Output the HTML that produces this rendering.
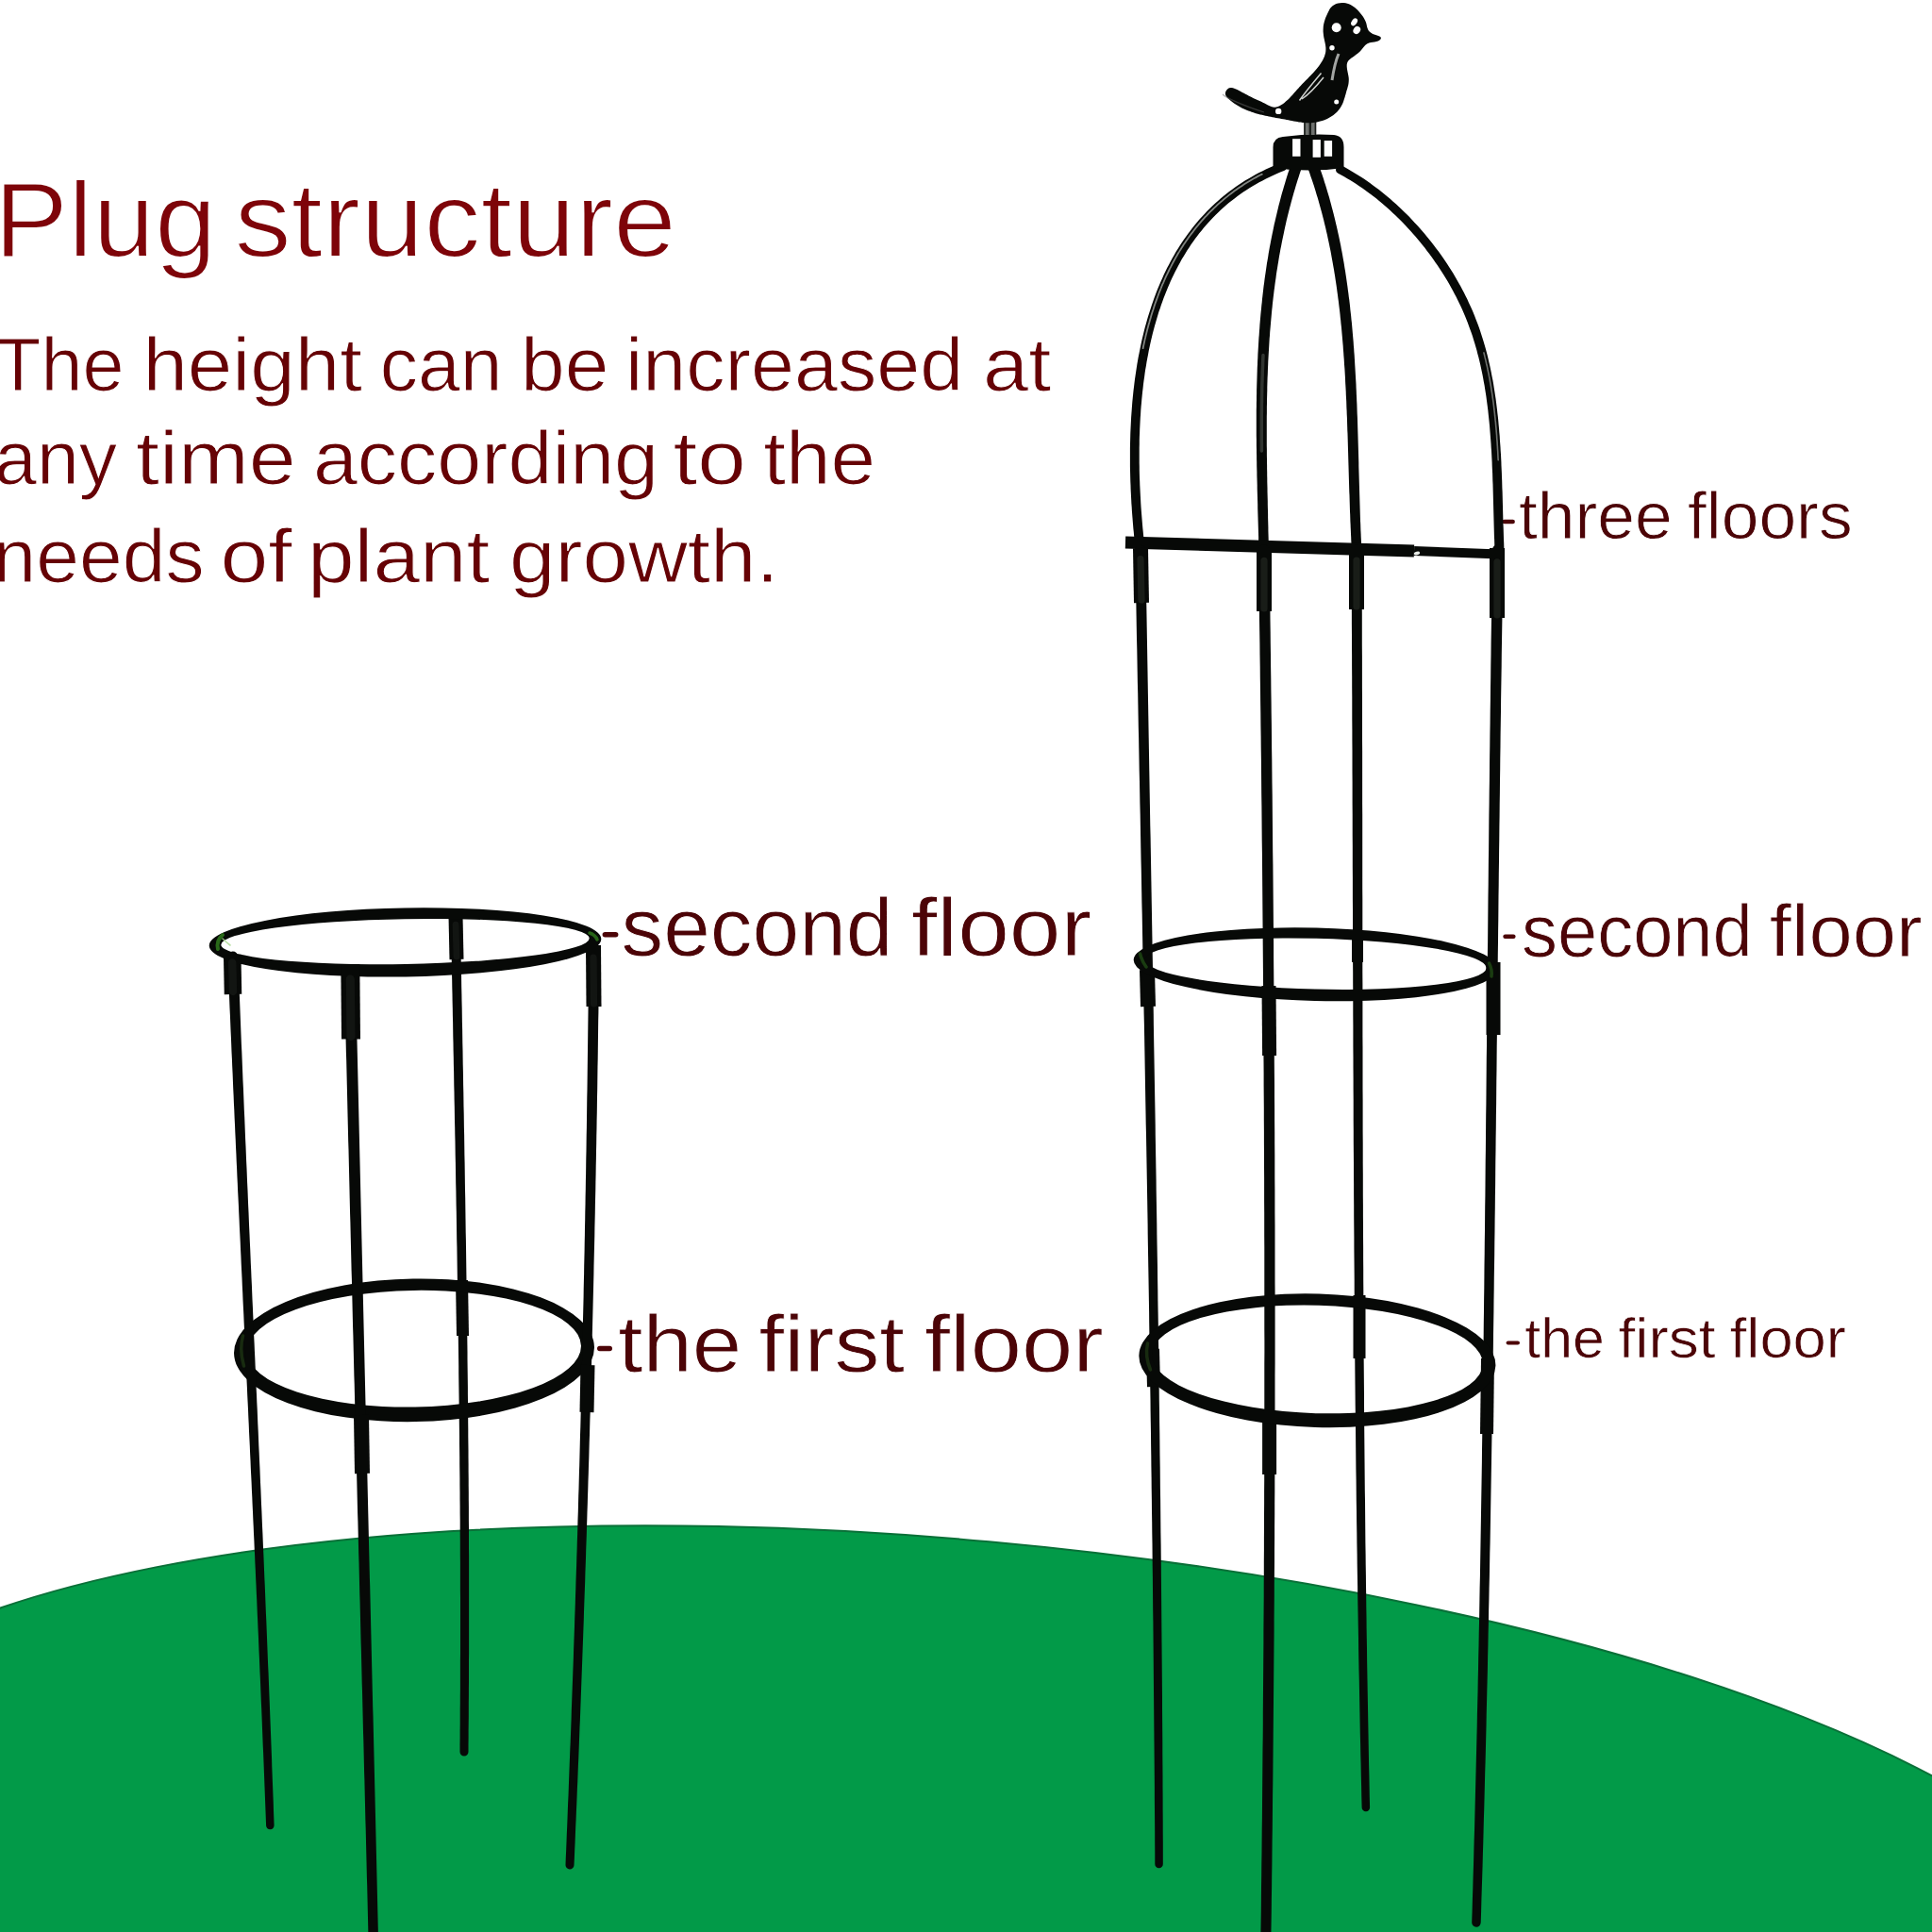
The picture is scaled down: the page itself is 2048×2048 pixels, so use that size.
<!DOCTYPE html>
<html><head><meta charset="utf-8">
<style>
html,body{margin:0;padding:0;background:#fff;width:2048px;height:2048px;overflow:hidden}
svg{display:block}
text{font-family:"Liberation Sans",sans-serif}
</style></head>
<body>
<svg width="2048" height="2048" viewBox="0 0 2048 2048">
<rect width="2048" height="2048" fill="#fff"/>
<ellipse cx="1015.27" cy="1998.37" rx="1240.58" ry="365.64" transform="rotate(5.2 1015.27 1998.37)" fill="#029a48" stroke="#0a7038" stroke-width="2"/>
<text x="-6.3" y="272.3" font-size="113" textLength="235.7" lengthAdjust="spacingAndGlyphs" fill="#7e0409" stroke="#fff" stroke-width="2.0">Plug</text>
<text x="248.4" y="272.3" font-size="113" textLength="468.6" lengthAdjust="spacingAndGlyphs" fill="#7e0409" stroke="#fff" stroke-width="2.0">structure</text>
<text x="-5.0" y="414" font-size="79.5" textLength="136.5" lengthAdjust="spacingAndGlyphs" fill="#660205" stroke="#fff" stroke-width="1.0">The</text>
<text x="151.4" y="414" font-size="79.5" textLength="232.6" lengthAdjust="spacingAndGlyphs" fill="#660205" stroke="#fff" stroke-width="1.0">height</text>
<text x="402.7" y="414" font-size="79.5" textLength="129.7" lengthAdjust="spacingAndGlyphs" fill="#660205" stroke="#fff" stroke-width="1.0">can</text>
<text x="552.0" y="414" font-size="79.5" textLength="93.4" lengthAdjust="spacingAndGlyphs" fill="#660205" stroke="#fff" stroke-width="1.0">be</text>
<text x="662.9" y="414" font-size="79.5" textLength="358.2" lengthAdjust="spacingAndGlyphs" fill="#660205" stroke="#fff" stroke-width="1.0">increased</text>
<text x="1042.0" y="414" font-size="79.5" textLength="72.3" lengthAdjust="spacingAndGlyphs" fill="#660205" stroke="#fff" stroke-width="1.0">at</text>
<text x="-6.0" y="513.4" font-size="79.5" textLength="130.2" lengthAdjust="spacingAndGlyphs" fill="#660205" stroke="#fff" stroke-width="1.0">any</text>
<text x="144.0" y="513.4" font-size="79.5" textLength="169.7" lengthAdjust="spacingAndGlyphs" fill="#660205" stroke="#fff" stroke-width="1.0">time</text>
<text x="331.9" y="513.4" font-size="79.5" textLength="366.2" lengthAdjust="spacingAndGlyphs" fill="#660205" stroke="#fff" stroke-width="1.0">according</text>
<text x="713.5" y="513.4" font-size="79.5" textLength="77.3" lengthAdjust="spacingAndGlyphs" fill="#660205" stroke="#fff" stroke-width="1.0">to</text>
<text x="809.2" y="513.4" font-size="79.5" textLength="119.0" lengthAdjust="spacingAndGlyphs" fill="#660205" stroke="#fff" stroke-width="1.0">the</text>
<text x="-7.5" y="616.9" font-size="79.5" textLength="224.1" lengthAdjust="spacingAndGlyphs" fill="#660205" stroke="#fff" stroke-width="1.0">needs</text>
<text x="233.5" y="616.9" font-size="79.5" textLength="76.3" lengthAdjust="spacingAndGlyphs" fill="#660205" stroke="#fff" stroke-width="1.0">of</text>
<text x="326.0" y="616.9" font-size="79.5" textLength="193.4" lengthAdjust="spacingAndGlyphs" fill="#660205" stroke="#fff" stroke-width="1.0">plant</text>
<text x="540.0" y="616.9" font-size="79.5" textLength="285.7" lengthAdjust="spacingAndGlyphs" fill="#660205" stroke="#fff" stroke-width="1.0">growth.</text>
<text x="658.5" y="1013" font-size="87" textLength="288.0" lengthAdjust="spacingAndGlyphs" fill="#4c0407" stroke="#fff" stroke-width="0.8">second</text>
<text x="966.0" y="1013" font-size="87" textLength="191.2" lengthAdjust="spacingAndGlyphs" fill="#4c0407" stroke="#fff" stroke-width="0.8">floor</text>
<text x="655.2" y="1454" font-size="86" textLength="131.1" lengthAdjust="spacingAndGlyphs" fill="#4c0407" stroke="#fff" stroke-width="0.8">the</text>
<text x="804.5" y="1454" font-size="86" textLength="154.5" lengthAdjust="spacingAndGlyphs" fill="#4c0407" stroke="#fff" stroke-width="0.8">first</text>
<text x="979.9" y="1454" font-size="86" textLength="189.8" lengthAdjust="spacingAndGlyphs" fill="#4c0407" stroke="#fff" stroke-width="0.8">floor</text>
<text x="1610.0" y="571.4" font-size="71" textLength="162.8" lengthAdjust="spacingAndGlyphs" fill="#4c0407" stroke="#fff" stroke-width="0.8">three</text>
<text x="1789.0" y="571.4" font-size="71" textLength="174.6" lengthAdjust="spacingAndGlyphs" fill="#4c0407" stroke="#fff" stroke-width="0.8">floors</text>
<text x="1613.0" y="1013.9" font-size="77" textLength="244.8" lengthAdjust="spacingAndGlyphs" fill="#4c0407" stroke="#fff" stroke-width="0.8">second</text>
<text x="1875.8" y="1013.9" font-size="77" textLength="161.8" lengthAdjust="spacingAndGlyphs" fill="#4c0407" stroke="#fff" stroke-width="0.8">floor</text>
<text x="1616.3" y="1439" font-size="59" textLength="84.5" lengthAdjust="spacingAndGlyphs" fill="#4c0407" stroke="#fff" stroke-width="0.6">the</text>
<text x="1715.6" y="1439" font-size="59" textLength="103.0" lengthAdjust="spacingAndGlyphs" fill="#4c0407" stroke="#fff" stroke-width="0.6">first</text>
<text x="1833.7" y="1439" font-size="59" textLength="123.3" lengthAdjust="spacingAndGlyphs" fill="#4c0407" stroke="#fff" stroke-width="0.6">floor</text>
<rect x="638.6" y="988.0" width="16.8" height="5.5" rx="2.8" fill="#4c0407"/>
<rect x="633" y="1426.7" width="16.0" height="5.5" rx="2.8" fill="#4c0407"/>
<rect x="1592.4" y="550.7" width="13.5" height="4.6" rx="2.3" fill="#4c0407"/>
<rect x="1593.3" y="990.5" width="13.3" height="4.6" rx="2.3" fill="#4c0407"/>
<rect x="1596.6" y="1421.4" width="14.4" height="4.2" rx="2.1" fill="#4c0407"/>
<g class="struct">
<path d="M477.9,972.1 L478.0,979.5 L478.2,987.0 L478.3,994.4 L478.4,1001.8 L478.6,1009.3 L478.7,1016.7 L478.9,1024.2 L479.0,1031.6 L479.2,1039.0 L479.3,1046.5 L479.5,1053.9 L479.6,1061.3 L479.8,1068.8 L479.9,1076.2 L480.1,1083.6 L480.2,1091.1 L480.3,1098.5 L480.5,1105.9 L480.6,1113.4 L480.8,1120.8 L480.9,1128.3 L481.1,1135.7 L481.2,1143.1 L481.3,1150.6 L481.5,1158.0 L481.6,1165.4 L481.8,1172.9 L481.9,1180.3 L482.0,1187.7 L482.2,1195.2 L482.3,1202.6 L482.5,1210.0 L482.6,1217.5 L482.7,1224.9 L482.9,1232.4 L483.0,1239.8 L483.1,1247.2 L483.2,1254.7 L483.4,1262.1 L483.5,1269.5 L483.6,1277.0 L483.8,1284.4 L483.9,1291.8 L484.0,1299.3 L484.1,1306.7 L484.2,1314.2 L484.4,1321.6 L484.5,1329.0 L484.6,1336.5 L484.7,1343.9 L484.8,1351.3 L484.9,1358.8 L485.0,1366.2 L485.2,1373.6 L485.3,1381.1 L485.4,1388.5 L485.5,1395.9 L485.6,1403.4 L485.7,1410.8 L485.8,1418.3 L485.9,1425.7 L486.0,1433.1 L486.1,1440.6 L486.2,1448.0 L486.2,1455.4 L486.3,1462.9 L486.4,1470.3 L486.5,1477.7 L486.6,1485.2 L486.7,1492.6 L486.7,1500.0 L486.8,1507.5 L486.9,1514.9 L487.0,1522.4 L487.0,1529.8 L487.1,1537.2 L487.2,1544.7 L487.2,1552.1 L487.3,1559.5 L487.4,1567.0 L487.4,1574.4 L487.5,1581.8 L487.5,1589.3 L487.6,1596.7 L487.6,1604.1 L487.7,1611.6 L487.7,1619.0 L487.7,1626.5 L487.8,1633.9 L487.8,1641.3 L487.8,1648.8 L487.9,1656.2 L487.9,1663.6 L487.9,1671.1 L487.9,1678.5 L487.9,1685.9 L488.0,1693.4 L488.0,1700.8 L488.0,1708.2 L488.0,1715.7 L488.0,1723.1 L488.0,1730.6 L488.0,1738.0 L488.0,1745.4 L488.0,1752.9 L487.9,1760.3 L487.9,1767.7 L487.9,1775.2 L487.9,1782.6 L487.9,1790.0 L487.8,1797.5 L487.8,1804.9 L487.7,1812.3 L487.7,1819.8 L487.7,1827.2 L487.6,1834.7 L487.6,1842.1 L487.5,1849.5 L487.5,1857.0 A4.50,4.50 0 0 0 496.5,1857.0 L496.5,1857.0 L496.5,1849.6 L496.6,1842.2 L496.6,1834.7 L496.7,1827.3 L496.8,1819.8 L496.8,1812.4 L496.8,1805.0 L496.9,1797.5 L496.9,1790.1 L497.0,1782.6 L497.0,1775.2 L497.0,1767.8 L497.0,1760.3 L497.1,1752.9 L497.1,1745.4 L497.1,1738.0 L497.1,1730.6 L497.1,1723.1 L497.1,1715.7 L497.1,1708.2 L497.1,1700.8 L497.1,1693.4 L497.1,1685.9 L497.1,1678.5 L497.1,1671.0 L497.1,1663.6 L497.1,1656.2 L497.1,1648.7 L497.0,1641.3 L497.0,1633.8 L497.0,1626.4 L497.0,1619.0 L496.9,1611.5 L496.9,1604.1 L496.9,1596.7 L496.8,1589.2 L496.8,1581.8 L496.7,1574.3 L496.7,1566.9 L496.6,1559.5 L496.6,1552.0 L496.5,1544.6 L496.5,1537.1 L496.4,1529.7 L496.3,1522.3 L496.3,1514.8 L496.2,1507.4 L496.2,1500.0 L496.1,1492.5 L496.0,1485.1 L495.9,1477.6 L495.9,1470.2 L495.8,1462.8 L495.7,1455.3 L495.6,1447.9 L495.5,1440.4 L495.5,1433.0 L495.4,1425.6 L495.3,1418.1 L495.2,1410.7 L495.1,1403.3 L495.0,1395.8 L494.9,1388.4 L494.8,1380.9 L494.7,1373.5 L494.6,1366.1 L494.5,1358.6 L494.4,1351.2 L494.3,1343.8 L494.2,1336.3 L494.1,1328.9 L494.0,1321.4 L493.9,1314.0 L493.7,1306.6 L493.6,1299.1 L493.5,1291.7 L493.4,1284.3 L493.3,1276.8 L493.2,1269.4 L493.0,1261.9 L492.9,1254.5 L492.8,1247.1 L492.7,1239.6 L492.6,1232.2 L492.4,1224.8 L492.3,1217.3 L492.2,1209.9 L492.1,1202.4 L491.9,1195.0 L491.8,1187.6 L491.7,1180.1 L491.5,1172.7 L491.4,1165.3 L491.3,1157.8 L491.1,1150.4 L491.0,1142.9 L490.9,1135.5 L490.7,1128.1 L490.6,1120.6 L490.5,1113.2 L490.3,1105.8 L490.2,1098.3 L490.1,1090.9 L489.9,1083.5 L489.8,1076.0 L489.7,1068.6 L489.5,1061.1 L489.4,1053.7 L489.2,1046.3 L489.1,1038.8 L489.0,1031.4 L488.8,1024.0 L488.7,1016.5 L488.6,1009.1 L488.4,1001.7 L488.3,994.2 L488.1,986.8 L488.0,979.3 L487.9,971.9 A5.00,5.00 0 0 0 477.9,972.1 Z" fill="#070907" />
<path d="M483.0,971.0 L484.0,1017.0" stroke="#070907" stroke-width="15" fill="none" stroke-linecap="butt" stroke-linejoin="round" /><path d="M483.0,980.2 L484.0,1014.0" stroke="#1a1e1a" stroke-width="6.75" fill="none" stroke-linecap="round" stroke-linejoin="round" opacity="0.6"/>
<path d="M489.5,1357.0 L490.5,1416.0" stroke="#070907" stroke-width="13" fill="none" stroke-linecap="butt" stroke-linejoin="round" />
<path d="M221.70,998.90 a207.80,36.50 0 1 0 415.60,0 a207.80,36.50 0 1 0 -415.60,0 Z M234.30,998.10 a195.20,23.90 0 1 0 390.40,0 a195.20,23.90 0 1 0 -390.40,0 Z" fill="#070907" fill-rule="evenodd" transform="rotate(-1.0 429.5 998.5)"/>
<path d="M248.00,1431.30 a191.00,75.80 0 1 0 382.00,0 a191.00,75.80 0 1 0 -382.00,0 Z M262.00,1429.70 a177.00,61.80 0 1 0 354.00,0 a177.00,61.80 0 1 0 -354.00,0 Z" fill="#070907" fill-rule="evenodd" transform="rotate(-1.0 439 1430.5)"/>
<path d="M241.3,1014.2 L241.6,1022.0 L241.9,1029.7 L242.2,1037.5 L242.6,1045.2 L242.9,1052.9 L243.2,1060.7 L243.5,1068.4 L243.9,1076.2 L244.2,1083.9 L244.5,1091.6 L244.9,1099.4 L245.2,1107.1 L245.5,1114.9 L245.9,1122.6 L246.2,1130.3 L246.6,1138.1 L246.9,1145.8 L247.2,1153.6 L247.6,1161.3 L247.9,1169.0 L248.3,1176.8 L248.6,1184.5 L249.0,1192.3 L249.3,1200.0 L249.7,1207.7 L250.0,1215.5 L250.4,1223.2 L250.7,1231.0 L251.1,1238.7 L251.4,1246.4 L251.8,1254.2 L252.1,1261.9 L252.5,1269.6 L252.9,1277.4 L253.2,1285.1 L253.6,1292.9 L253.9,1300.6 L254.3,1308.3 L254.7,1316.1 L255.0,1323.8 L255.4,1331.6 L255.7,1339.3 L256.1,1347.0 L256.5,1354.8 L256.8,1362.5 L257.2,1370.2 L257.5,1378.0 L257.9,1385.7 L258.3,1393.5 L258.6,1401.2 L259.0,1408.9 L259.3,1416.7 L259.7,1424.4 L260.1,1432.2 L260.4,1439.9 L260.8,1447.6 L261.2,1455.4 L261.5,1463.1 L261.9,1470.8 L262.2,1478.6 L262.6,1486.3 L263.0,1494.1 L263.3,1501.8 L263.7,1509.5 L264.0,1517.3 L264.4,1525.0 L264.8,1532.7 L265.1,1540.5 L265.5,1548.2 L265.8,1556.0 L266.2,1563.7 L266.6,1571.4 L266.9,1579.2 L267.3,1586.9 L267.6,1594.6 L268.0,1602.4 L268.3,1610.1 L268.7,1617.9 L269.0,1625.6 L269.4,1633.3 L269.7,1641.1 L270.1,1648.8 L270.4,1656.6 L270.8,1664.3 L271.1,1672.0 L271.5,1679.8 L271.8,1687.5 L272.2,1695.2 L272.5,1703.0 L272.8,1710.7 L273.2,1718.5 L273.5,1726.2 L273.9,1733.9 L274.2,1741.7 L274.5,1749.4 L274.9,1757.2 L275.2,1764.9 L275.5,1772.6 L275.9,1780.4 L276.2,1788.1 L276.5,1795.8 L276.8,1803.6 L277.2,1811.3 L277.5,1819.1 L277.8,1826.8 L278.1,1834.5 L278.4,1842.3 L278.7,1850.0 L279.1,1857.8 L279.4,1865.5 L279.7,1873.2 L280.0,1881.0 L280.3,1888.7 L280.6,1896.5 L280.9,1904.2 L281.2,1911.9 L281.5,1919.7 L281.8,1927.4 L282.1,1935.2 A4.25,4.25 0 0 0 290.6,1934.9 L290.6,1934.9 L290.3,1927.1 L290.0,1919.4 L289.8,1911.6 L289.5,1903.9 L289.2,1896.1 L288.9,1888.4 L288.6,1880.6 L288.3,1872.9 L288.1,1865.2 L287.8,1857.4 L287.5,1849.7 L287.2,1841.9 L286.9,1834.2 L286.6,1826.5 L286.3,1818.7 L286.0,1811.0 L285.7,1803.2 L285.4,1795.5 L285.1,1787.7 L284.8,1780.0 L284.5,1772.3 L284.1,1764.5 L283.8,1756.8 L283.5,1749.0 L283.2,1741.3 L282.9,1733.6 L282.6,1725.8 L282.3,1718.1 L281.9,1710.3 L281.6,1702.6 L281.3,1694.9 L281.0,1687.1 L280.7,1679.4 L280.3,1671.6 L280.0,1663.9 L279.7,1656.2 L279.4,1648.4 L279.0,1640.7 L278.7,1632.9 L278.4,1625.2 L278.0,1617.4 L277.7,1609.7 L277.4,1602.0 L277.0,1594.2 L276.7,1586.5 L276.4,1578.8 L276.0,1571.0 L275.7,1563.3 L275.4,1555.5 L275.0,1547.8 L274.7,1540.1 L274.3,1532.3 L274.0,1524.6 L273.7,1516.8 L273.3,1509.1 L273.0,1501.4 L272.7,1493.6 L272.3,1485.9 L272.0,1478.1 L271.6,1470.4 L271.3,1462.7 L271.0,1454.9 L270.6,1447.2 L270.3,1439.4 L269.9,1431.7 L269.6,1424.0 L269.2,1416.2 L268.9,1408.5 L268.6,1400.7 L268.2,1393.0 L267.9,1385.3 L267.5,1377.5 L267.2,1369.8 L266.9,1362.1 L266.5,1354.3 L266.2,1346.6 L265.8,1338.8 L265.5,1331.1 L265.2,1323.4 L264.8,1315.6 L264.5,1307.9 L264.1,1300.1 L263.8,1292.4 L263.5,1284.7 L263.1,1276.9 L262.8,1269.2 L262.5,1261.4 L262.1,1253.7 L261.8,1246.0 L261.5,1238.2 L261.1,1230.5 L260.8,1222.8 L260.5,1215.0 L260.1,1207.3 L259.8,1199.5 L259.5,1191.8 L259.2,1184.1 L258.8,1176.3 L258.5,1168.6 L258.2,1160.8 L257.9,1153.1 L257.5,1145.4 L257.2,1137.6 L256.9,1129.9 L256.6,1122.1 L256.3,1114.4 L255.9,1106.7 L255.6,1098.9 L255.3,1091.2 L255.0,1083.4 L254.7,1075.7 L254.4,1068.0 L254.1,1060.2 L253.8,1052.5 L253.5,1044.7 L253.2,1037.0 L252.9,1029.3 L252.6,1021.5 L252.3,1013.8 A5.50,5.50 0 0 0 241.3,1014.2 Z" fill="#070907" />
<path d="M246.2,1012.0 L247.0,1054.0" stroke="#070907" stroke-width="18.5" fill="none" stroke-linecap="butt" stroke-linejoin="round" /><path d="M246.2,1020.4 L247.0,1051.0" stroke="#1a1e1a" stroke-width="8.325000000000001" fill="none" stroke-linecap="round" stroke-linejoin="round" opacity="0.6"/>
<path d="M364.9,1030.1 L365.1,1038.7 L365.3,1047.3 L365.5,1055.9 L365.7,1064.4 L365.9,1073.0 L366.1,1081.6 L366.3,1090.1 L366.5,1098.7 L366.7,1107.3 L366.9,1115.9 L367.2,1124.4 L367.4,1133.0 L367.6,1141.6 L367.8,1150.2 L368.0,1158.7 L368.2,1167.3 L368.4,1175.9 L368.6,1184.4 L368.8,1193.0 L369.0,1201.6 L369.2,1210.2 L369.5,1218.7 L369.7,1227.3 L369.9,1235.9 L370.1,1244.4 L370.3,1253.0 L370.5,1261.6 L370.7,1270.2 L370.9,1278.7 L371.1,1287.3 L371.4,1295.9 L371.6,1304.4 L371.8,1313.0 L372.0,1321.6 L372.2,1330.2 L372.4,1338.7 L372.6,1347.3 L372.9,1355.9 L373.1,1364.4 L373.3,1373.0 L373.5,1381.6 L373.7,1390.2 L373.9,1398.7 L374.1,1407.3 L374.4,1415.9 L374.6,1424.4 L374.8,1433.0 L375.0,1441.6 L375.2,1450.2 L375.4,1458.7 L375.7,1467.3 L375.9,1475.9 L376.1,1484.4 L376.3,1493.0 L376.5,1501.6 L376.7,1510.1 L377.0,1518.7 L377.2,1527.3 L377.4,1535.9 L377.6,1544.4 L377.8,1553.0 L378.1,1561.6 L378.3,1570.1 L378.5,1578.7 L378.7,1587.3 L378.9,1595.9 L379.1,1604.4 L379.4,1613.0 L379.6,1621.6 L379.8,1630.1 L380.0,1638.7 L380.2,1647.3 L380.5,1655.9 L380.7,1664.4 L380.9,1673.0 L381.1,1681.6 L381.3,1690.1 L381.6,1698.7 L381.8,1707.3 L382.0,1715.9 L382.2,1724.4 L382.4,1733.0 L382.6,1741.6 L382.9,1750.1 L383.1,1758.7 L383.3,1767.3 L383.5,1775.9 L383.7,1784.4 L384.0,1793.0 L384.2,1801.6 L384.4,1810.1 L384.6,1818.7 L384.8,1827.3 L385.0,1835.9 L385.3,1844.4 L385.5,1853.0 L385.7,1861.6 L385.9,1870.1 L386.1,1878.7 L386.4,1887.3 L386.6,1895.9 L386.8,1904.4 L387.0,1913.0 L387.2,1921.6 L387.4,1930.1 L387.7,1938.7 L387.9,1947.3 L388.1,1955.9 L388.3,1964.4 L388.5,1973.0 L388.7,1981.6 L388.9,1990.1 L389.2,1998.7 L389.4,2007.3 L389.6,2015.8 L389.8,2024.4 L390.0,2033.0 L390.2,2041.6 L390.4,2050.1 A5.25,5.25 0 0 0 400.9,2049.9 L400.9,2049.9 L400.7,2041.3 L400.5,2032.7 L400.3,2024.2 L400.1,2015.6 L399.9,2007.0 L399.7,1998.5 L399.5,1989.9 L399.3,1981.3 L399.1,1972.7 L398.9,1964.2 L398.7,1955.6 L398.5,1947.0 L398.3,1938.4 L398.1,1929.9 L397.9,1921.3 L397.7,1912.7 L397.5,1904.2 L397.3,1895.6 L397.1,1887.0 L396.9,1878.4 L396.7,1869.9 L396.5,1861.3 L396.3,1852.7 L396.1,1844.2 L395.9,1835.6 L395.7,1827.0 L395.5,1818.4 L395.2,1809.9 L395.0,1801.3 L394.8,1792.7 L394.6,1784.2 L394.4,1775.6 L394.2,1767.0 L394.0,1758.4 L393.8,1749.9 L393.6,1741.3 L393.4,1732.7 L393.2,1724.2 L393.0,1715.6 L392.8,1707.0 L392.6,1698.4 L392.4,1689.9 L392.2,1681.3 L391.9,1672.7 L391.7,1664.2 L391.5,1655.6 L391.3,1647.0 L391.1,1638.4 L390.9,1629.9 L390.7,1621.3 L390.5,1612.7 L390.3,1604.2 L390.1,1595.6 L389.9,1587.0 L389.7,1578.4 L389.5,1569.9 L389.3,1561.3 L389.1,1552.7 L388.9,1544.2 L388.7,1535.6 L388.5,1527.0 L388.2,1518.4 L388.0,1509.9 L387.8,1501.3 L387.6,1492.7 L387.4,1484.2 L387.2,1475.6 L387.0,1467.0 L386.8,1458.4 L386.6,1449.9 L386.4,1441.3 L386.2,1432.7 L386.0,1424.2 L385.8,1415.6 L385.6,1407.0 L385.4,1398.4 L385.2,1389.9 L385.0,1381.3 L384.8,1372.7 L384.6,1364.2 L384.4,1355.6 L384.2,1347.0 L384.0,1338.4 L383.8,1329.9 L383.6,1321.3 L383.4,1312.7 L383.2,1304.2 L383.0,1295.6 L382.8,1287.0 L382.6,1278.4 L382.4,1269.9 L382.2,1261.3 L382.0,1252.7 L381.8,1244.2 L381.6,1235.6 L381.4,1227.0 L381.2,1218.4 L381.0,1209.9 L380.8,1201.3 L380.6,1192.7 L380.4,1184.2 L380.2,1175.6 L380.0,1167.0 L379.8,1158.4 L379.6,1149.9 L379.4,1141.3 L379.2,1132.7 L379.0,1124.2 L378.8,1115.6 L378.6,1107.0 L378.4,1098.4 L378.2,1089.9 L378.0,1081.3 L377.9,1072.7 L377.7,1064.2 L377.5,1055.6 L377.3,1047.0 L377.1,1038.4 L376.9,1029.9 A6.00,6.00 0 0 0 364.9,1030.1 Z" fill="#070907" />
<path d="M371.3,1022.0 L372.0,1101.5" stroke="#070907" stroke-width="20" fill="none" stroke-linecap="butt" stroke-linejoin="round" /><path d="M371.3,1037.9 L372.0,1098.5" stroke="#1a1e1a" stroke-width="9.0" fill="none" stroke-linecap="round" stroke-linejoin="round" opacity="0.6"/>
<path d="M383.0,1500.0 L384.0,1562.0" stroke="#070907" stroke-width="16" fill="none" stroke-linecap="butt" stroke-linejoin="round" />
<path d="M624.1,1007.9 L624.1,1016.1 L624.0,1024.2 L623.9,1032.4 L623.8,1040.5 L623.7,1048.7 L623.7,1056.8 L623.6,1064.9 L623.5,1073.1 L623.4,1081.2 L623.3,1089.4 L623.2,1097.5 L623.1,1105.7 L623.0,1113.8 L622.9,1121.9 L622.8,1130.1 L622.7,1138.2 L622.6,1146.4 L622.5,1154.5 L622.3,1162.7 L622.2,1170.8 L622.1,1179.0 L622.0,1187.1 L621.9,1195.2 L621.7,1203.4 L621.6,1211.5 L621.5,1219.7 L621.3,1227.8 L621.2,1236.0 L621.1,1244.1 L620.9,1252.2 L620.8,1260.4 L620.6,1268.5 L620.5,1276.7 L620.3,1284.8 L620.2,1293.0 L620.0,1301.1 L619.9,1309.2 L619.7,1317.4 L619.6,1325.5 L619.4,1333.7 L619.2,1341.8 L619.1,1350.0 L618.9,1358.1 L618.7,1366.2 L618.6,1374.4 L618.4,1382.5 L618.2,1390.7 L618.0,1398.8 L617.8,1407.0 L617.7,1415.1 L617.5,1423.2 L617.3,1431.4 L617.1,1439.5 L616.9,1447.7 L616.7,1455.8 L616.5,1464.0 L616.3,1472.1 L616.1,1480.2 L615.9,1488.4 L615.7,1496.5 L615.5,1504.7 L615.3,1512.8 L615.0,1521.0 L614.8,1529.1 L614.6,1537.2 L614.4,1545.4 L614.2,1553.5 L613.9,1561.7 L613.7,1569.8 L613.5,1577.9 L613.2,1586.1 L613.0,1594.2 L612.8,1602.4 L612.5,1610.5 L612.3,1618.7 L612.1,1626.8 L611.8,1634.9 L611.6,1643.1 L611.3,1651.2 L611.1,1659.4 L610.8,1667.5 L610.5,1675.6 L610.3,1683.8 L610.0,1691.9 L609.8,1700.1 L609.5,1708.2 L609.2,1716.4 L609.0,1724.5 L608.7,1732.6 L608.4,1740.8 L608.1,1748.9 L607.9,1757.1 L607.6,1765.2 L607.3,1773.3 L607.0,1781.5 L606.7,1789.6 L606.4,1797.8 L606.1,1805.9 L605.8,1814.0 L605.6,1822.2 L605.3,1830.3 L605.0,1838.5 L604.7,1846.6 L604.3,1854.7 L604.0,1862.9 L603.7,1871.0 L603.4,1879.1 L603.1,1887.3 L602.8,1895.4 L602.5,1903.6 L602.1,1911.7 L601.8,1919.8 L601.5,1928.0 L601.2,1936.1 L600.8,1944.3 L600.5,1952.4 L600.2,1960.5 L599.8,1968.7 L599.5,1976.8 A4.50,4.50 0 0 0 608.5,1977.2 L608.5,1977.2 L608.9,1969.1 L609.2,1960.9 L609.6,1952.8 L609.9,1944.6 L610.2,1936.5 L610.6,1928.4 L610.9,1920.2 L611.3,1912.1 L611.6,1903.9 L611.9,1895.8 L612.3,1887.7 L612.6,1879.5 L612.9,1871.4 L613.3,1863.2 L613.6,1855.1 L613.9,1846.9 L614.2,1838.8 L614.5,1830.7 L614.9,1822.5 L615.2,1814.4 L615.5,1806.2 L615.8,1798.1 L616.1,1790.0 L616.4,1781.8 L616.7,1773.7 L617.0,1765.5 L617.3,1757.4 L617.6,1749.2 L617.9,1741.1 L618.2,1733.0 L618.5,1724.8 L618.8,1716.7 L619.0,1708.5 L619.3,1700.4 L619.6,1692.2 L619.9,1684.1 L620.2,1676.0 L620.4,1667.8 L620.7,1659.7 L621.0,1651.5 L621.2,1643.4 L621.5,1635.2 L621.8,1627.1 L622.0,1619.0 L622.3,1610.8 L622.5,1602.7 L622.8,1594.5 L623.0,1586.4 L623.3,1578.2 L623.5,1570.1 L623.8,1561.9 L624.0,1553.8 L624.3,1545.7 L624.5,1537.5 L624.7,1529.4 L625.0,1521.2 L625.2,1513.1 L625.4,1504.9 L625.7,1496.8 L625.9,1488.6 L626.1,1480.5 L626.3,1472.4 L626.5,1464.2 L626.8,1456.1 L627.0,1447.9 L627.2,1439.8 L627.4,1431.6 L627.6,1423.5 L627.8,1415.3 L628.0,1407.2 L628.2,1399.1 L628.4,1390.9 L628.6,1382.8 L628.8,1374.6 L629.0,1366.5 L629.2,1358.3 L629.4,1350.2 L629.5,1342.0 L629.7,1333.9 L629.9,1325.7 L630.1,1317.6 L630.3,1309.5 L630.4,1301.3 L630.6,1293.2 L630.8,1285.0 L630.9,1276.9 L631.1,1268.7 L631.3,1260.6 L631.4,1252.4 L631.6,1244.3 L631.7,1236.1 L631.9,1228.0 L632.0,1219.9 L632.2,1211.7 L632.3,1203.6 L632.5,1195.4 L632.6,1187.3 L632.8,1179.1 L632.9,1171.0 L633.0,1162.8 L633.2,1154.7 L633.3,1146.5 L633.4,1138.4 L633.5,1130.2 L633.7,1122.1 L633.8,1114.0 L633.9,1105.8 L634.0,1097.7 L634.1,1089.5 L634.2,1081.4 L634.4,1073.2 L634.5,1065.1 L634.6,1056.9 L634.7,1048.8 L634.8,1040.6 L634.9,1032.5 L635.0,1024.3 L635.1,1016.2 L635.1,1008.1 A5.50,5.50 0 0 0 624.1,1007.9 Z" fill="#070907" />
<path d="M629.0,1002.0 L629.5,1067.0" stroke="#070907" stroke-width="16" fill="none" stroke-linecap="butt" stroke-linejoin="round" /><path d="M629.0,1015.0 L629.5,1064.0" stroke="#1a1e1a" stroke-width="7.2" fill="none" stroke-linecap="round" stroke-linejoin="round" opacity="0.6"/>
<path d="M623.0,1447.0 L622.0,1497.0" stroke="#070907" stroke-width="15" fill="none" stroke-linecap="butt" stroke-linejoin="round" />
<path d="M1357.7,172.7 L1353.7,174.3 L1349.7,176.0 L1345.7,177.7 L1341.8,179.5 L1338.0,181.4 L1334.2,183.3 L1330.5,185.3 L1326.8,187.4 L1323.3,189.4 L1319.7,191.6 L1316.3,193.8 L1312.9,196.0 L1309.6,198.3 L1306.3,200.7 L1303.1,203.1 L1299.9,205.6 L1296.8,208.1 L1293.8,210.6 L1290.8,213.2 L1287.9,215.8 L1285.0,218.5 L1282.2,221.3 L1279.4,224.0 L1276.7,226.9 L1274.1,229.7 L1271.5,232.6 L1269.0,235.6 L1266.5,238.6 L1264.1,241.6 L1261.7,244.7 L1259.4,247.8 L1257.1,250.9 L1254.9,254.1 L1252.7,257.3 L1250.6,260.5 L1248.6,263.8 L1246.5,267.1 L1244.6,270.5 L1242.7,273.8 L1240.8,277.2 L1239.0,280.7 L1237.2,284.1 L1235.5,287.6 L1233.8,291.1 L1232.2,294.7 L1230.6,298.3 L1229.0,301.9 L1227.5,305.5 L1226.1,309.1 L1224.7,312.8 L1223.3,316.5 L1222.0,320.2 L1220.7,324.0 L1219.5,327.7 L1218.3,331.5 L1217.1,335.3 L1216.0,339.1 L1214.9,343.0 L1213.8,346.8 L1212.8,350.7 L1211.9,354.6 L1210.9,358.5 L1210.0,362.4 L1209.2,366.3 L1208.4,370.2 L1207.6,374.2 L1206.8,378.1 L1206.1,382.1 L1205.4,386.1 L1204.8,390.1 L1204.2,394.1 L1203.6,398.1 L1203.0,402.1 L1202.5,406.1 L1202.0,410.2 L1201.5,414.2 L1201.1,418.2 L1200.7,422.3 L1200.3,426.3 L1200.0,430.3 L1199.7,434.4 L1199.4,438.4 L1199.1,442.5 L1198.9,446.5 L1198.7,450.6 L1198.5,454.6 L1198.3,458.7 L1198.2,462.7 L1198.1,466.7 L1198.0,470.8 L1197.9,474.8 L1197.9,478.8 L1197.9,482.8 L1197.9,486.8 L1197.9,490.8 L1197.9,494.8 L1198.0,498.7 L1198.1,502.7 L1198.2,506.7 L1198.3,510.6 L1198.5,514.5 L1198.6,518.4 L1198.8,522.3 L1199.0,526.2 L1199.2,530.1 L1199.4,534.0 L1199.7,537.8 L1199.9,541.6 L1200.2,545.4 L1200.5,549.2 L1200.8,553.0 L1201.1,556.7 L1201.4,560.4 L1201.8,564.1 L1202.1,567.8 L1202.5,571.5 L1202.8,575.1 L1203.2,578.7 L1203.6,582.3 A5.00,5.00 0 0 0 1213.5,581.2 L1213.5,581.2 L1213.1,577.6 L1212.8,574.1 L1212.4,570.5 L1212.0,566.8 L1211.7,563.2 L1211.3,559.5 L1211.0,555.9 L1210.7,552.2 L1210.4,548.4 L1210.1,544.7 L1209.8,540.9 L1209.5,537.1 L1209.3,533.4 L1209.1,529.5 L1208.9,525.7 L1208.7,521.9 L1208.5,518.0 L1208.3,514.1 L1208.2,510.3 L1208.0,506.4 L1207.9,502.5 L1207.8,498.6 L1207.8,494.6 L1207.7,490.7 L1207.7,486.8 L1207.7,482.8 L1207.7,478.9 L1207.7,474.9 L1207.8,470.9 L1207.8,467.0 L1207.9,463.0 L1208.1,459.0 L1208.2,455.0 L1208.4,451.0 L1208.6,447.1 L1208.8,443.1 L1209.1,439.1 L1209.3,435.1 L1209.6,431.1 L1210.0,427.1 L1210.3,423.2 L1210.7,419.2 L1211.1,415.2 L1211.6,411.3 L1212.0,407.3 L1212.5,403.4 L1213.1,399.4 L1213.6,395.5 L1214.2,391.6 L1214.9,387.7 L1215.5,383.8 L1216.2,379.9 L1217.0,376.0 L1217.7,372.1 L1218.5,368.3 L1219.3,364.4 L1220.2,360.6 L1221.1,356.8 L1222.0,353.0 L1223.0,349.2 L1224.0,345.5 L1225.1,341.7 L1226.2,338.0 L1227.3,334.3 L1228.4,330.6 L1229.7,327.0 L1230.9,323.3 L1232.2,319.7 L1233.5,316.1 L1234.9,312.6 L1236.3,309.0 L1237.7,305.5 L1239.2,302.0 L1240.7,298.5 L1242.3,295.1 L1243.9,291.7 L1245.6,288.3 L1247.3,285.0 L1249.0,281.7 L1250.8,278.4 L1252.6,275.1 L1254.5,271.9 L1256.5,268.7 L1258.4,265.5 L1260.5,262.4 L1262.5,259.3 L1264.7,256.3 L1266.8,253.2 L1269.1,250.3 L1271.3,247.3 L1273.7,244.4 L1276.0,241.5 L1278.4,238.7 L1280.9,235.9 L1283.4,233.2 L1286.0,230.5 L1288.7,227.8 L1291.3,225.2 L1294.1,222.6 L1296.9,220.1 L1299.7,217.6 L1302.6,215.1 L1305.6,212.7 L1308.6,210.4 L1311.7,208.0 L1314.8,205.8 L1318.0,203.6 L1321.2,201.4 L1324.6,199.3 L1327.9,197.2 L1331.4,195.2 L1334.8,193.3 L1338.4,191.4 L1342.0,189.5 L1345.7,187.7 L1349.4,186.0 L1353.2,184.3 L1357.1,182.6 L1361.1,181.0 A4.50,4.50 0 0 0 1357.7,172.7 Z" fill="#070907" />
<path d="M1368.5,174.0 L1367.4,177.4 L1366.3,180.7 L1365.2,184.1 L1364.1,187.4 L1363.1,190.8 L1362.1,194.2 L1361.1,197.5 L1360.1,200.9 L1359.1,204.3 L1358.2,207.6 L1357.3,211.0 L1356.4,214.4 L1355.5,217.8 L1354.7,221.2 L1353.9,224.6 L1353.1,227.9 L1352.3,231.3 L1351.5,234.7 L1350.7,238.1 L1350.0,241.5 L1349.3,244.9 L1348.6,248.3 L1347.9,251.8 L1347.2,255.2 L1346.6,258.6 L1345.9,262.0 L1345.3,265.4 L1344.7,268.8 L1344.2,272.3 L1343.6,275.7 L1343.0,279.1 L1342.5,282.5 L1342.0,286.0 L1341.5,289.4 L1341.0,292.8 L1340.5,296.3 L1340.1,299.7 L1339.6,303.1 L1339.2,306.6 L1338.8,310.0 L1338.4,313.5 L1338.0,316.9 L1337.7,320.4 L1337.3,323.8 L1337.0,327.2 L1336.6,330.7 L1336.3,334.1 L1336.0,337.6 L1335.7,341.1 L1335.4,344.5 L1335.2,348.0 L1334.9,351.4 L1334.7,354.9 L1334.4,358.3 L1334.2,361.8 L1334.0,365.3 L1333.8,368.7 L1333.6,372.2 L1333.4,375.6 L1333.3,379.1 L1333.1,382.6 L1333.0,386.0 L1332.8,389.5 L1332.7,393.0 L1332.6,396.4 L1332.5,399.9 L1332.4,403.4 L1332.3,406.8 L1332.2,410.3 L1332.1,413.8 L1332.1,417.2 L1332.0,420.7 L1332.0,424.2 L1331.9,427.6 L1331.9,431.1 L1331.8,434.6 L1331.8,438.0 L1331.8,441.5 L1331.8,445.0 L1331.8,448.5 L1331.8,451.9 L1331.8,455.4 L1331.8,458.9 L1331.8,462.3 L1331.9,465.8 L1331.9,469.3 L1331.9,472.7 L1332.0,476.2 L1332.0,479.6 L1332.1,483.1 L1332.1,486.6 L1332.2,490.0 L1332.2,493.5 L1332.3,497.0 L1332.4,500.4 L1332.4,503.9 L1332.5,507.3 L1332.6,510.8 L1332.7,514.2 L1332.7,517.7 L1332.8,521.2 L1332.9,524.6 L1333.0,528.1 L1333.1,531.5 L1333.2,535.0 L1333.2,538.4 L1333.3,541.9 L1333.4,545.3 L1333.5,548.7 L1333.6,552.2 L1333.7,555.6 L1333.8,559.1 L1333.9,562.5 L1334.0,565.9 L1334.1,569.4 L1334.1,572.8 L1334.2,576.2 L1334.3,579.7 L1334.4,583.1 A5.25,5.25 0 0 0 1344.9,582.9 L1344.9,582.9 L1344.8,579.4 L1344.7,576.0 L1344.7,572.6 L1344.6,569.1 L1344.5,565.7 L1344.4,562.2 L1344.4,558.8 L1344.3,555.4 L1344.2,551.9 L1344.1,548.5 L1344.1,545.0 L1344.0,541.6 L1343.9,538.2 L1343.8,534.7 L1343.8,531.3 L1343.7,527.8 L1343.6,524.4 L1343.5,520.9 L1343.5,517.5 L1343.4,514.0 L1343.3,510.6 L1343.3,507.1 L1343.2,503.7 L1343.2,500.2 L1343.1,496.8 L1343.1,493.3 L1343.0,489.9 L1343.0,486.4 L1342.9,483.0 L1342.9,479.5 L1342.9,476.1 L1342.8,472.6 L1342.8,469.2 L1342.8,465.7 L1342.8,462.3 L1342.8,458.8 L1342.8,455.4 L1342.8,451.9 L1342.8,448.5 L1342.8,445.0 L1342.8,441.6 L1342.9,438.1 L1342.9,434.7 L1342.9,431.2 L1343.0,427.8 L1343.0,424.3 L1343.1,420.9 L1343.2,417.5 L1343.3,414.0 L1343.3,410.6 L1343.4,407.1 L1343.5,403.7 L1343.6,400.3 L1343.8,396.8 L1343.9,393.4 L1344.0,389.9 L1344.2,386.5 L1344.3,383.1 L1344.5,379.7 L1344.7,376.2 L1344.9,372.8 L1345.1,369.4 L1345.3,365.9 L1345.5,362.5 L1345.7,359.1 L1346.0,355.7 L1346.2,352.3 L1346.5,348.8 L1346.8,345.4 L1347.1,342.0 L1347.4,338.6 L1347.7,335.2 L1348.0,331.8 L1348.3,328.4 L1348.7,325.0 L1349.0,321.6 L1349.4,318.2 L1349.8,314.8 L1350.2,311.4 L1350.6,308.0 L1351.1,304.6 L1351.5,301.2 L1352.0,297.8 L1352.5,294.4 L1352.9,291.1 L1353.4,287.7 L1354.0,284.3 L1354.5,280.9 L1355.1,277.6 L1355.6,274.2 L1356.2,270.8 L1356.8,267.5 L1357.4,264.1 L1358.1,260.8 L1358.7,257.4 L1359.4,254.0 L1360.1,250.7 L1360.8,247.4 L1361.5,244.0 L1362.2,240.7 L1363.0,237.3 L1363.7,234.0 L1364.5,230.7 L1365.3,227.4 L1366.2,224.0 L1367.0,220.7 L1367.9,217.4 L1368.8,214.1 L1369.7,210.8 L1370.6,207.5 L1371.5,204.2 L1372.5,200.9 L1373.5,197.6 L1374.5,194.3 L1375.5,191.0 L1376.6,187.7 L1377.6,184.4 L1378.7,181.2 L1379.8,177.9 A6.00,6.00 0 0 0 1368.5,174.0 Z" fill="#070907" />
<path d="M1387.2,180.4 L1388.3,183.6 L1389.4,186.9 L1390.5,190.1 L1391.6,193.3 L1392.7,196.6 L1393.7,199.8 L1394.7,203.1 L1395.7,206.4 L1396.7,209.6 L1397.7,212.9 L1398.6,216.2 L1399.5,219.4 L1400.4,222.7 L1401.3,226.0 L1402.1,229.3 L1403.0,232.6 L1403.8,235.9 L1404.6,239.2 L1405.4,242.5 L1406.1,245.8 L1406.9,249.1 L1407.6,252.4 L1408.3,255.7 L1409.0,259.1 L1409.7,262.4 L1410.4,265.7 L1411.0,269.1 L1411.6,272.4 L1412.2,275.7 L1412.8,279.1 L1413.4,282.4 L1414.0,285.8 L1414.5,289.1 L1415.1,292.5 L1415.6,295.9 L1416.1,299.2 L1416.6,302.6 L1417.1,306.0 L1417.5,309.3 L1418.0,312.7 L1418.4,316.1 L1418.9,319.5 L1419.3,322.9 L1419.7,326.2 L1420.1,329.6 L1420.5,333.0 L1420.8,336.4 L1421.2,339.8 L1421.5,343.2 L1421.9,346.6 L1422.2,350.0 L1422.5,353.4 L1422.8,356.8 L1423.1,360.2 L1423.4,363.7 L1423.7,367.1 L1423.9,370.5 L1424.2,373.9 L1424.4,377.3 L1424.7,380.7 L1424.9,384.2 L1425.1,387.6 L1425.4,391.0 L1425.6,394.4 L1425.8,397.9 L1426.0,401.3 L1426.1,404.7 L1426.3,408.1 L1426.5,411.6 L1426.7,415.0 L1426.8,418.4 L1427.0,421.9 L1427.2,425.3 L1427.3,428.7 L1427.4,432.2 L1427.6,435.6 L1427.7,439.1 L1427.9,442.5 L1428.0,445.9 L1428.1,449.4 L1428.2,452.8 L1428.3,456.3 L1428.5,459.7 L1428.6,463.1 L1428.7,466.6 L1428.8,470.0 L1428.9,473.5 L1429.0,476.9 L1429.1,480.3 L1429.2,483.8 L1429.3,487.2 L1429.4,490.7 L1429.5,494.1 L1429.6,497.5 L1429.7,501.0 L1429.8,504.4 L1429.9,507.9 L1430.0,511.3 L1430.1,514.7 L1430.2,518.2 L1430.3,521.6 L1430.5,525.0 L1430.6,528.5 L1430.7,531.9 L1430.8,535.3 L1430.9,538.8 L1431.0,542.2 L1431.2,545.6 L1431.3,549.0 L1431.4,552.5 L1431.6,555.9 L1431.7,559.3 L1431.9,562.7 L1432.0,566.1 L1432.2,569.6 L1432.3,573.0 L1432.5,576.4 L1432.7,579.8 L1432.8,583.2 A5.25,5.25 0 0 0 1443.3,582.7 L1443.3,582.7 L1443.2,579.3 L1443.0,575.9 L1442.9,572.5 L1442.7,569.1 L1442.6,565.7 L1442.4,562.3 L1442.3,558.9 L1442.2,555.5 L1442.0,552.1 L1441.9,548.6 L1441.8,545.2 L1441.7,541.8 L1441.6,538.4 L1441.5,535.0 L1441.4,531.6 L1441.3,528.1 L1441.2,524.7 L1441.1,521.3 L1441.0,517.8 L1440.9,514.4 L1440.8,511.0 L1440.7,507.5 L1440.6,504.1 L1440.5,500.7 L1440.4,497.2 L1440.3,493.8 L1440.3,490.4 L1440.2,486.9 L1440.1,483.5 L1440.0,480.0 L1439.9,476.6 L1439.8,473.1 L1439.7,469.7 L1439.6,466.2 L1439.5,462.8 L1439.4,459.3 L1439.3,455.9 L1439.2,452.5 L1439.1,449.0 L1439.0,445.6 L1438.9,442.1 L1438.7,438.6 L1438.6,435.2 L1438.5,431.7 L1438.4,428.3 L1438.2,424.8 L1438.1,421.4 L1437.9,417.9 L1437.8,414.5 L1437.6,411.0 L1437.5,407.6 L1437.3,404.1 L1437.1,400.7 L1436.9,397.2 L1436.7,393.8 L1436.5,390.3 L1436.3,386.9 L1436.1,383.4 L1435.9,380.0 L1435.7,376.5 L1435.4,373.1 L1435.2,369.6 L1434.9,366.2 L1434.7,362.7 L1434.4,359.3 L1434.1,355.9 L1433.8,352.4 L1433.5,349.0 L1433.2,345.5 L1432.9,342.1 L1432.5,338.7 L1432.2,335.2 L1431.8,331.8 L1431.4,328.4 L1431.1,324.9 L1430.7,321.5 L1430.3,318.1 L1429.8,314.7 L1429.4,311.2 L1428.9,307.8 L1428.5,304.4 L1428.0,301.0 L1427.5,297.6 L1427.0,294.1 L1426.5,290.7 L1426.0,287.3 L1425.4,283.9 L1424.9,280.5 L1424.3,277.1 L1423.7,273.7 L1423.1,270.3 L1422.5,266.9 L1421.8,263.5 L1421.2,260.1 L1420.5,256.7 L1419.8,253.3 L1419.1,250.0 L1418.3,246.6 L1417.6,243.2 L1416.8,239.8 L1416.0,236.5 L1415.2,233.1 L1414.4,229.7 L1413.6,226.4 L1412.7,223.0 L1411.8,219.7 L1410.9,216.3 L1410.0,213.0 L1409.1,209.6 L1408.1,206.3 L1407.1,202.9 L1406.1,199.6 L1405.1,196.3 L1404.0,192.9 L1403.0,189.6 L1401.9,186.3 L1400.8,183.0 L1399.6,179.7 L1398.5,176.4 A6.00,6.00 0 0 0 1387.2,180.4 Z" fill="#070907" />
<path d="M1418.4,183.7 L1421.7,185.5 L1424.9,187.3 L1428.1,189.2 L1431.3,191.1 L1434.5,193.1 L1437.6,195.1 L1440.8,197.2 L1443.9,199.3 L1447.0,201.4 L1450.0,203.7 L1453.1,205.9 L1456.1,208.3 L1459.1,210.6 L1462.0,213.0 L1465.0,215.5 L1467.9,218.0 L1470.8,220.5 L1473.6,223.1 L1476.4,225.7 L1479.2,228.3 L1482.0,231.0 L1484.8,233.8 L1487.5,236.5 L1490.1,239.3 L1492.8,242.2 L1495.4,245.0 L1498.0,247.9 L1500.5,250.8 L1503.0,253.8 L1505.5,256.8 L1507.9,259.8 L1510.4,262.8 L1512.7,265.9 L1515.1,269.0 L1517.3,272.1 L1519.6,275.2 L1521.8,278.4 L1524.0,281.6 L1526.1,284.8 L1528.2,288.0 L1530.3,291.2 L1532.3,294.5 L1534.3,297.8 L1536.2,301.1 L1538.1,304.4 L1539.9,307.8 L1541.7,311.2 L1543.5,314.6 L1545.2,318.0 L1546.9,321.4 L1548.5,324.8 L1550.1,328.3 L1551.6,331.8 L1553.1,335.3 L1554.5,338.8 L1555.9,342.3 L1557.2,345.9 L1558.5,349.5 L1559.8,353.0 L1561.0,356.6 L1562.1,360.3 L1563.3,363.9 L1564.3,367.6 L1565.4,371.2 L1566.3,374.9 L1567.3,378.6 L1568.2,382.3 L1569.1,386.0 L1569.9,389.8 L1570.7,393.5 L1571.5,397.3 L1572.2,401.1 L1572.9,404.9 L1573.6,408.6 L1574.2,412.5 L1574.8,416.3 L1575.4,420.1 L1575.9,423.9 L1576.4,427.8 L1576.9,431.6 L1577.4,435.5 L1577.8,439.4 L1578.2,443.2 L1578.6,447.1 L1579.0,451.0 L1579.3,454.9 L1579.6,458.8 L1579.9,462.7 L1580.2,466.6 L1580.5,470.5 L1580.7,474.4 L1581.0,478.3 L1581.2,482.2 L1581.4,486.2 L1581.6,490.1 L1581.7,494.0 L1581.9,497.9 L1582.1,501.8 L1582.2,505.7 L1582.3,509.7 L1582.5,513.6 L1582.6,517.5 L1582.7,521.4 L1582.8,525.3 L1582.9,529.2 L1583.0,533.1 L1583.1,537.0 L1583.2,540.9 L1583.3,544.8 L1583.4,548.6 L1583.5,552.5 L1583.6,556.4 L1583.7,560.2 L1583.8,564.1 L1583.9,567.9 L1584.1,571.7 L1584.2,575.6 L1584.3,579.4 L1584.5,583.2 A5.00,5.00 0 0 0 1594.4,582.8 L1594.4,582.8 L1594.3,579.0 L1594.2,575.2 L1594.0,571.4 L1593.9,567.6 L1593.8,563.8 L1593.7,559.9 L1593.5,556.1 L1593.4,552.2 L1593.3,548.4 L1593.2,544.5 L1593.1,540.6 L1593.0,536.7 L1592.9,532.8 L1592.8,528.9 L1592.7,525.0 L1592.6,521.1 L1592.4,517.2 L1592.3,513.3 L1592.2,509.3 L1592.0,505.4 L1591.9,501.4 L1591.7,497.5 L1591.5,493.6 L1591.4,489.6 L1591.2,485.7 L1591.0,481.7 L1590.7,477.8 L1590.5,473.8 L1590.2,469.9 L1589.9,465.9 L1589.7,462.0 L1589.3,458.0 L1589.0,454.1 L1588.6,450.1 L1588.3,446.2 L1587.9,442.2 L1587.4,438.3 L1587.0,434.4 L1586.5,430.4 L1586.0,426.5 L1585.5,422.6 L1584.9,418.7 L1584.3,414.8 L1583.7,410.9 L1583.1,407.0 L1582.4,403.1 L1581.6,399.3 L1580.9,395.4 L1580.1,391.6 L1579.3,387.7 L1578.4,383.9 L1577.5,380.1 L1576.6,376.3 L1575.6,372.5 L1574.6,368.7 L1573.5,364.9 L1572.4,361.2 L1571.2,357.4 L1570.0,353.7 L1568.8,350.0 L1567.5,346.3 L1566.1,342.6 L1564.7,338.9 L1563.3,335.3 L1561.8,331.6 L1560.3,328.0 L1558.7,324.4 L1557.0,320.9 L1555.4,317.3 L1553.6,313.8 L1551.9,310.3 L1550.0,306.8 L1548.2,303.3 L1546.3,299.9 L1544.3,296.4 L1542.3,293.0 L1540.3,289.6 L1538.2,286.3 L1536.1,283.0 L1533.9,279.6 L1531.7,276.3 L1529.5,273.1 L1527.2,269.8 L1524.9,266.6 L1522.5,263.4 L1520.1,260.3 L1517.6,257.1 L1515.2,254.0 L1512.7,250.9 L1510.1,247.8 L1507.5,244.8 L1504.9,241.8 L1502.2,238.8 L1499.5,235.9 L1496.8,233.0 L1494.1,230.1 L1491.3,227.3 L1488.4,224.5 L1485.6,221.7 L1482.7,219.0 L1479.8,216.3 L1476.8,213.7 L1473.9,211.1 L1470.8,208.5 L1467.8,206.0 L1464.7,203.5 L1461.7,201.1 L1458.5,198.7 L1455.4,196.4 L1452.2,194.1 L1449.0,191.8 L1445.8,189.6 L1442.6,187.5 L1439.3,185.4 L1436.0,183.4 L1432.7,181.4 L1429.4,179.5 L1426.0,177.6 L1422.7,175.8 A4.50,4.50 0 0 0 1418.4,183.7 Z" fill="#070907" />
<path d="M1337.8,184.6 L1335.5,185.7 L1333.3,186.9 L1331.2,188.1 L1329.0,189.3 L1326.9,190.5 L1324.8,191.7 L1322.7,193.0 L1320.6,194.3 L1318.6,195.6 L1316.6,196.9 L1314.6,198.2 L1312.6,199.6 L1310.6,201.0 L1308.7,202.3 L1306.8,203.8 L1304.9,205.2 L1303.0,206.6 L1301.2,208.1 L1299.3,209.6 L1297.5,211.1 L1295.8,212.6 L1294.0,214.1 L1292.2,215.6 L1290.5,217.2 L1288.8,218.8 L1287.1,220.4 L1285.5,222.0 L1283.8,223.6 L1282.2,225.2 L1280.6,226.9 L1279.0,228.6 L1277.4,230.2 L1275.9,231.9 L1274.3,233.7 L1272.8,235.4 L1271.3,237.1 L1269.9,238.9 L1268.4,240.7 L1267.0,242.4 L1265.6,244.2 L1264.2,246.1 L1262.8,247.9 L1261.4,249.7 L1260.1,251.6 L1258.8,253.4 L1257.5,255.3 L1256.2,257.2 L1254.9,259.1 L1253.7,261.0 L1252.4,263.0 L1251.2,264.9 L1250.0,266.9 L1248.8,268.8 L1247.7,270.8 L1246.5,272.8 L1245.4,274.8 L1244.3,276.8 L1243.2,278.8 L1242.1,280.8 L1241.1,282.9 L1240.0,284.9 L1239.0,287.0 L1238.0,289.1 L1237.0,291.2 L1236.0,293.2 L1235.0,295.4 L1234.1,297.5 L1233.2,299.6 L1232.2,301.7 L1231.3,303.9 L1230.5,306.0 L1229.6,308.2 L1228.7,310.3 L1227.9,312.5 L1227.1,314.7 L1226.3,316.9 L1225.5,319.1 L1224.7,321.3 L1223.9,323.5 L1223.2,325.7 L1222.5,328.0 L1221.7,330.2 L1221.0,332.4 L1220.3,334.7 L1219.7,336.9 L1219.0,339.2 L1218.4,341.5 L1217.7,343.8 L1217.1,346.0 L1216.5,348.3 L1215.9,350.6 L1215.3,352.9 L1214.7,355.2 L1214.2,357.5 L1213.6,359.9 L1213.1,362.2 L1212.6,364.5 L1212.1,366.8 L1211.6,369.2" stroke="#a9aea9" stroke-width="1.8" fill="none" stroke-linecap="round" opacity="0.75"/>
<path d="M1572.9,373.9 L1573.5,376.2 L1574.0,378.4 L1574.6,380.7 L1575.1,382.9 L1575.6,385.2 L1576.2,387.5 L1576.7,389.8 L1577.1,392.0 L1577.6,394.3 L1578.1,396.6 L1578.5,398.9 L1579.0,401.2 L1579.4,403.5 L1579.8,405.8 L1580.2,408.1 L1580.6,410.4 L1580.9,412.7 L1581.3,415.0 L1581.7,417.4 L1582.0,419.7 L1582.3,422.0 L1582.7,424.3 L1583.0,426.7 L1583.3,429.0 L1583.6,431.3 L1583.8,433.7 L1584.1,436.0 L1584.4,438.3 L1584.6,440.7 L1584.9,443.0 L1585.1,445.4 L1585.4,447.7 L1585.6,450.1 L1585.8,452.4 L1586.0,454.8 L1586.2,457.1 L1586.4,459.5 L1586.6,461.8 L1586.7,464.2 L1586.9,466.5 L1587.1,468.9 L1587.2,471.2 L1587.4,473.6 L1587.5,475.9 L1587.7,478.3 L1587.8,480.6 L1587.9,483.0 L1588.0,485.4 L1588.2,487.7" stroke="#9a9e9a" stroke-width="1.6" fill="none" stroke-linecap="round" opacity="0.7"/>
<path d="M1339.0,376.6 L1338.9,378.7 L1338.8,380.7 L1338.7,382.8 L1338.6,384.9 L1338.6,386.9 L1338.5,389.0 L1338.4,391.1 L1338.3,393.1 L1338.2,395.2 L1338.2,397.3 L1338.1,399.3 L1338.0,401.4 L1338.0,403.4 L1337.9,405.5 L1337.8,407.6 L1337.8,409.6 L1337.7,411.7 L1337.7,413.8 L1337.7,415.8 L1337.6,417.9 L1337.6,420.0 L1337.5,422.0 L1337.5,424.1 L1337.5,426.2 L1337.4,428.2 L1337.4,430.3 L1337.4,432.4 L1337.4,434.4 L1337.4,436.5 L1337.3,438.6 L1337.3,440.6 L1337.3,442.7 L1337.3,444.8 L1337.3,446.8 L1337.3,448.9 L1337.3,451.0 L1337.3,453.0 L1337.3,455.1 L1337.3,457.2 L1337.3,459.3 L1337.3,461.3 L1337.3,463.4 L1337.3,465.5 L1337.3,467.5 L1337.4,469.6 L1337.4,471.7 L1337.4,473.7 L1337.4,475.8 L1337.4,477.9" stroke="#3c413c" stroke-width="3.5" fill="none" stroke-linecap="round" opacity="0.8"/>
<path d="M1193.0,575.0 L1499.0,584.0" stroke="#070907" stroke-width="13" fill="none" stroke-linecap="butt" stroke-linejoin="round" />
<path d="M1499.0,584.0 L1590.0,587.5" stroke="#070907" stroke-width="10" fill="none" stroke-linecap="butt" stroke-linejoin="round" />
<path d="M1203.3,583.1 L1203.5,594.8 L1203.7,606.5 L1203.9,618.2 L1204.1,629.9 L1204.4,641.6 L1204.6,653.3 L1204.8,665.0 L1205.0,676.7 L1205.3,688.5 L1205.5,700.2 L1205.7,711.9 L1205.9,723.6 L1206.2,735.3 L1206.4,747.0 L1206.6,758.7 L1206.8,770.4 L1207.1,782.1 L1207.3,793.8 L1207.5,805.5 L1207.7,817.2 L1208.0,828.9 L1208.2,840.6 L1208.4,852.3 L1208.7,864.0 L1208.9,875.7 L1209.1,887.4 L1209.3,899.1 L1209.5,910.8 L1209.8,922.6 L1210.0,934.3 L1210.2,946.0 L1210.4,957.7 L1210.7,969.4 L1210.9,981.1 L1211.1,992.8 L1211.3,1004.5 L1211.5,1016.2 L1211.8,1027.9 L1212.0,1039.6 L1212.2,1051.3 L1212.4,1063.0 L1212.6,1074.7 L1212.9,1086.4 L1213.1,1098.1 L1213.3,1109.8 L1213.5,1121.5 L1213.7,1133.2 L1213.9,1144.9 L1214.1,1156.6 L1214.3,1168.4 L1214.5,1180.1 L1214.7,1191.8 L1215.0,1203.5 L1215.2,1215.2 L1215.4,1226.9 L1215.6,1238.6 L1215.8,1250.3 L1216.0,1262.0 L1216.2,1273.7 L1216.4,1285.4 L1216.6,1297.1 L1216.7,1308.8 L1216.9,1320.5 L1217.1,1332.2 L1217.3,1343.9 L1217.5,1355.6 L1217.7,1367.3 L1217.9,1379.0 L1218.1,1390.7 L1218.2,1402.4 L1218.4,1414.2 L1218.6,1425.9 L1218.8,1437.6 L1218.9,1449.3 L1219.1,1461.0 L1219.3,1472.7 L1219.5,1484.4 L1219.6,1496.1 L1219.8,1507.8 L1220.0,1519.5 L1220.1,1531.2 L1220.3,1542.9 L1220.4,1554.6 L1220.6,1566.3 L1220.7,1578.0 L1220.9,1589.7 L1221.0,1601.4 L1221.2,1613.1 L1221.3,1624.8 L1221.5,1636.5 L1221.6,1648.3 L1221.7,1660.0 L1221.9,1671.7 L1222.0,1683.4 L1222.1,1695.1 L1222.2,1706.8 L1222.4,1718.5 L1222.5,1730.2 L1222.6,1741.9 L1222.7,1753.6 L1222.8,1765.3 L1222.9,1777.0 L1223.0,1788.7 L1223.1,1800.4 L1223.2,1812.1 L1223.3,1823.8 L1223.4,1835.5 L1223.5,1847.3 L1223.6,1859.0 L1223.7,1870.7 L1223.8,1882.4 L1223.9,1894.1 L1223.9,1905.8 L1224.0,1917.5 L1224.1,1929.2 L1224.2,1940.9 L1224.2,1952.6 L1224.3,1964.3 L1224.3,1976.0 A4.25,4.25 0 0 0 1232.8,1976.0 L1232.8,1976.0 L1232.8,1964.3 L1232.8,1952.6 L1232.7,1940.9 L1232.7,1929.2 L1232.6,1917.4 L1232.6,1905.7 L1232.5,1894.0 L1232.5,1882.3 L1232.4,1870.6 L1232.3,1858.9 L1232.3,1847.2 L1232.2,1835.5 L1232.1,1823.8 L1232.0,1812.1 L1232.0,1800.4 L1231.9,1788.7 L1231.8,1776.9 L1231.7,1765.2 L1231.6,1753.5 L1231.5,1741.8 L1231.4,1730.1 L1231.3,1718.4 L1231.2,1706.7 L1231.1,1695.0 L1231.0,1683.3 L1230.9,1671.6 L1230.8,1659.9 L1230.7,1648.2 L1230.6,1636.4 L1230.4,1624.7 L1230.3,1613.0 L1230.2,1601.3 L1230.1,1589.6 L1229.9,1577.9 L1229.8,1566.2 L1229.7,1554.5 L1229.5,1542.8 L1229.4,1531.1 L1229.3,1519.4 L1229.1,1507.7 L1229.0,1496.0 L1228.8,1484.3 L1228.7,1472.5 L1228.5,1460.8 L1228.4,1449.1 L1228.2,1437.4 L1228.1,1425.7 L1227.9,1414.0 L1227.8,1402.3 L1227.6,1390.6 L1227.4,1378.9 L1227.3,1367.2 L1227.1,1355.5 L1227.0,1343.8 L1226.8,1332.1 L1226.6,1320.4 L1226.4,1308.7 L1226.3,1297.0 L1226.1,1285.2 L1225.9,1273.5 L1225.7,1261.8 L1225.6,1250.1 L1225.4,1238.4 L1225.2,1226.7 L1225.0,1215.0 L1224.8,1203.3 L1224.7,1191.6 L1224.5,1179.9 L1224.3,1168.2 L1224.1,1156.5 L1223.9,1144.8 L1223.7,1133.1 L1223.5,1121.4 L1223.3,1109.7 L1223.1,1097.9 L1222.9,1086.2 L1222.8,1074.5 L1222.6,1062.8 L1222.4,1051.1 L1222.2,1039.4 L1222.0,1027.7 L1221.8,1016.0 L1221.6,1004.3 L1221.4,992.6 L1221.2,980.9 L1221.0,969.2 L1220.8,957.5 L1220.6,945.8 L1220.4,934.1 L1220.2,922.4 L1220.0,910.7 L1219.8,899.0 L1219.6,887.2 L1219.3,875.5 L1219.1,863.8 L1218.9,852.1 L1218.7,840.4 L1218.5,828.7 L1218.3,817.0 L1218.1,805.3 L1217.9,793.6 L1217.7,781.9 L1217.5,770.2 L1217.3,758.5 L1217.1,746.8 L1216.9,735.1 L1216.7,723.4 L1216.5,711.7 L1216.3,700.0 L1216.1,688.3 L1215.9,676.5 L1215.7,664.8 L1215.5,653.1 L1215.3,641.4 L1215.1,629.7 L1214.9,618.0 L1214.7,606.3 L1214.5,594.6 L1214.3,582.9 A5.50,5.50 0 0 0 1203.3,583.1 Z" fill="#070907" />
<path d="M1334.0,583.1 L1334.2,595.4 L1334.4,607.7 L1334.5,620.1 L1334.7,632.4 L1334.9,644.7 L1335.0,657.0 L1335.2,669.4 L1335.4,681.7 L1335.5,694.0 L1335.7,706.3 L1335.8,718.7 L1336.0,731.0 L1336.1,743.3 L1336.3,755.6 L1336.4,768.0 L1336.6,780.3 L1336.7,792.6 L1336.9,805.0 L1337.0,817.3 L1337.1,829.6 L1337.2,841.9 L1337.4,854.3 L1337.5,866.6 L1337.6,878.9 L1337.7,891.2 L1337.9,903.6 L1338.0,915.9 L1338.1,928.2 L1338.2,940.5 L1338.3,952.9 L1338.4,965.2 L1338.5,977.5 L1338.6,989.8 L1338.7,1002.2 L1338.8,1014.5 L1338.9,1026.8 L1339.0,1039.2 L1339.1,1051.5 L1339.1,1063.8 L1339.2,1076.1 L1339.3,1088.5 L1339.4,1100.8 L1339.4,1113.1 L1339.5,1125.4 L1339.6,1137.8 L1339.6,1150.1 L1339.7,1162.4 L1339.8,1174.7 L1339.8,1187.1 L1339.9,1199.4 L1339.9,1211.7 L1340.0,1224.1 L1340.0,1236.4 L1340.1,1248.7 L1340.1,1261.0 L1340.1,1273.4 L1340.2,1285.7 L1340.2,1298.0 L1340.2,1310.3 L1340.3,1322.7 L1340.3,1335.0 L1340.3,1347.3 L1340.3,1359.6 L1340.3,1372.0 L1340.3,1384.3 L1340.3,1396.6 L1340.3,1409.0 L1340.4,1421.3 L1340.4,1433.6 L1340.3,1445.9 L1340.3,1458.3 L1340.3,1470.6 L1340.3,1482.9 L1340.3,1495.2 L1340.3,1507.6 L1340.3,1519.9 L1340.2,1532.2 L1340.2,1544.5 L1340.2,1556.9 L1340.2,1569.2 L1340.1,1581.5 L1340.1,1593.9 L1340.0,1606.2 L1340.0,1618.5 L1339.9,1630.8 L1339.9,1643.2 L1339.8,1655.5 L1339.8,1667.8 L1339.7,1680.1 L1339.7,1692.5 L1339.6,1704.8 L1339.5,1717.1 L1339.4,1729.4 L1339.4,1741.8 L1339.3,1754.1 L1339.2,1766.4 L1339.1,1778.8 L1339.0,1791.1 L1338.9,1803.4 L1338.8,1815.7 L1338.8,1828.1 L1338.7,1840.4 L1338.5,1852.7 L1338.4,1865.0 L1338.3,1877.4 L1338.2,1889.7 L1338.1,1902.0 L1338.0,1914.3 L1337.9,1926.7 L1337.7,1939.0 L1337.6,1951.3 L1337.5,1963.6 L1337.3,1976.0 L1337.2,1988.3 L1337.0,2000.6 L1336.9,2013.0 L1336.8,2025.3 L1336.6,2037.6 L1336.4,2049.9 A5.50,5.50 0 0 0 1347.4,2050.1 L1347.4,2050.1 L1347.6,2037.7 L1347.8,2025.4 L1347.9,2013.1 L1348.1,2000.8 L1348.2,1988.4 L1348.4,1976.1 L1348.5,1963.8 L1348.6,1951.4 L1348.8,1939.1 L1348.9,1926.8 L1349.0,1914.5 L1349.1,1902.1 L1349.3,1889.8 L1349.4,1877.5 L1349.5,1865.1 L1349.6,1852.8 L1349.7,1840.5 L1349.8,1828.1 L1349.9,1815.8 L1350.0,1803.5 L1350.1,1791.2 L1350.2,1778.8 L1350.3,1766.5 L1350.4,1754.2 L1350.5,1741.8 L1350.6,1729.5 L1350.6,1717.2 L1350.7,1704.9 L1350.8,1692.5 L1350.8,1680.2 L1350.9,1667.9 L1351.0,1655.5 L1351.0,1643.2 L1351.1,1630.9 L1351.1,1618.6 L1351.2,1606.2 L1351.2,1593.9 L1351.3,1581.6 L1351.3,1569.2 L1351.4,1556.9 L1351.4,1544.6 L1351.4,1532.2 L1351.4,1519.9 L1351.5,1507.6 L1351.5,1495.3 L1351.5,1482.9 L1351.5,1470.6 L1351.5,1458.3 L1351.6,1445.9 L1351.6,1433.6 L1351.6,1421.3 L1351.6,1409.0 L1351.6,1396.6 L1351.6,1384.3 L1351.6,1372.0 L1351.5,1359.6 L1351.5,1347.3 L1351.5,1335.0 L1351.5,1322.6 L1351.5,1310.3 L1351.5,1298.0 L1351.4,1285.7 L1351.4,1273.3 L1351.4,1261.0 L1351.3,1248.7 L1351.3,1236.3 L1351.3,1224.0 L1351.2,1211.7 L1351.2,1199.4 L1351.1,1187.0 L1351.1,1174.7 L1351.0,1162.4 L1351.0,1150.0 L1350.9,1137.7 L1350.8,1125.4 L1350.8,1113.1 L1350.7,1100.7 L1350.6,1088.4 L1350.6,1076.1 L1350.5,1063.7 L1350.4,1051.4 L1350.3,1039.1 L1350.2,1026.7 L1350.1,1014.4 L1350.1,1002.1 L1350.0,989.8 L1349.9,977.4 L1349.8,965.1 L1349.7,952.8 L1349.6,940.4 L1349.5,928.1 L1349.4,915.8 L1349.2,903.5 L1349.1,891.1 L1349.0,878.8 L1348.9,866.5 L1348.8,854.1 L1348.7,841.8 L1348.5,829.5 L1348.4,817.2 L1348.3,804.8 L1348.1,792.5 L1348.0,780.2 L1347.9,767.8 L1347.7,755.5 L1347.6,743.2 L1347.4,730.9 L1347.3,718.5 L1347.1,706.2 L1347.0,693.9 L1346.8,681.5 L1346.7,669.2 L1346.5,656.9 L1346.4,644.6 L1346.2,632.2 L1346.0,619.9 L1345.9,607.6 L1345.7,595.2 L1345.5,582.9 A5.75,5.75 0 0 0 1334.0,583.1 Z" fill="#070907" />
<path d="M1432.5,583.0 L1432.6,594.2 L1432.7,605.4 L1432.7,616.6 L1432.8,627.8 L1432.8,639.0 L1432.9,650.2 L1432.9,661.4 L1433.0,672.6 L1433.0,683.8 L1433.1,695.0 L1433.1,706.2 L1433.2,717.4 L1433.2,728.6 L1433.3,739.8 L1433.3,751.0 L1433.3,762.2 L1433.4,773.4 L1433.4,784.7 L1433.5,795.9 L1433.5,807.1 L1433.5,818.3 L1433.6,829.5 L1433.6,840.7 L1433.6,851.9 L1433.7,863.1 L1433.7,874.3 L1433.7,885.5 L1433.8,896.7 L1433.8,907.9 L1433.8,919.1 L1433.9,930.3 L1433.9,941.5 L1433.9,952.7 L1434.0,963.9 L1434.0,975.1 L1434.0,986.3 L1434.1,997.5 L1434.1,1008.7 L1434.1,1019.9 L1434.2,1031.1 L1434.2,1042.3 L1434.3,1053.5 L1434.3,1064.7 L1434.3,1075.9 L1434.4,1087.1 L1434.4,1098.3 L1434.4,1109.5 L1434.5,1120.7 L1434.5,1131.9 L1434.6,1143.1 L1434.6,1154.3 L1434.7,1165.5 L1434.7,1176.7 L1434.7,1187.9 L1434.8,1199.1 L1434.8,1210.3 L1434.9,1221.5 L1435.0,1232.7 L1435.0,1244.0 L1435.1,1255.2 L1435.1,1266.4 L1435.2,1277.6 L1435.2,1288.8 L1435.3,1300.0 L1435.4,1311.2 L1435.4,1322.4 L1435.5,1333.6 L1435.6,1344.8 L1435.7,1356.0 L1435.7,1367.2 L1435.8,1378.4 L1435.9,1389.6 L1436.0,1400.8 L1436.1,1412.0 L1436.2,1423.2 L1436.2,1434.4 L1436.3,1445.6 L1436.4,1456.8 L1436.5,1468.0 L1436.6,1479.2 L1436.7,1490.4 L1436.9,1501.6 L1437.0,1512.8 L1437.1,1524.0 L1437.2,1535.2 L1437.3,1546.4 L1437.4,1557.6 L1437.6,1568.8 L1437.7,1580.0 L1437.8,1591.2 L1438.0,1602.4 L1438.1,1613.6 L1438.3,1624.8 L1438.4,1636.0 L1438.6,1647.2 L1438.7,1658.4 L1438.9,1669.7 L1439.1,1680.9 L1439.2,1692.1 L1439.4,1703.3 L1439.6,1714.5 L1439.8,1725.7 L1440.0,1736.9 L1440.1,1748.1 L1440.3,1759.3 L1440.5,1770.5 L1440.8,1781.7 L1441.0,1792.9 L1441.2,1804.1 L1441.4,1815.3 L1441.6,1826.5 L1441.8,1837.7 L1442.1,1848.9 L1442.3,1860.1 L1442.6,1871.3 L1442.8,1882.5 L1443.1,1893.7 L1443.3,1904.9 L1443.6,1916.1 A4.25,4.25 0 0 0 1452.1,1915.9 L1452.1,1915.9 L1451.8,1904.7 L1451.6,1893.5 L1451.4,1882.3 L1451.1,1871.1 L1450.9,1859.9 L1450.7,1848.7 L1450.5,1837.5 L1450.3,1826.3 L1450.1,1815.1 L1449.9,1803.9 L1449.7,1792.7 L1449.5,1781.5 L1449.3,1770.3 L1449.1,1759.1 L1449.0,1747.9 L1448.8,1736.7 L1448.6,1725.5 L1448.5,1714.3 L1448.3,1703.1 L1448.2,1691.9 L1448.0,1680.7 L1447.9,1669.5 L1447.7,1658.3 L1447.6,1647.1 L1447.4,1635.9 L1447.3,1624.7 L1447.2,1613.5 L1447.1,1602.3 L1447.0,1591.1 L1446.8,1579.9 L1446.7,1568.7 L1446.6,1557.5 L1446.5,1546.3 L1446.4,1535.1 L1446.3,1523.9 L1446.2,1512.7 L1446.1,1501.5 L1446.0,1490.3 L1446.0,1479.1 L1445.9,1467.9 L1445.8,1456.7 L1445.7,1445.5 L1445.6,1434.3 L1445.6,1423.1 L1445.5,1411.9 L1445.4,1400.7 L1445.4,1389.5 L1445.3,1378.3 L1445.3,1367.1 L1445.2,1355.9 L1445.2,1344.7 L1445.1,1333.5 L1445.1,1322.3 L1445.0,1311.1 L1445.0,1299.9 L1444.9,1288.7 L1444.9,1277.5 L1444.8,1266.3 L1444.8,1255.1 L1444.8,1243.9 L1444.7,1232.7 L1444.7,1221.5 L1444.7,1210.3 L1444.6,1199.1 L1444.6,1187.9 L1444.6,1176.7 L1444.6,1165.5 L1444.5,1154.3 L1444.5,1143.1 L1444.5,1131.9 L1444.5,1120.7 L1444.5,1109.5 L1444.4,1098.3 L1444.4,1087.1 L1444.4,1075.9 L1444.4,1064.7 L1444.4,1053.5 L1444.4,1042.3 L1444.3,1031.1 L1444.3,1019.9 L1444.3,1008.7 L1444.3,997.5 L1444.3,986.3 L1444.3,975.1 L1444.3,963.9 L1444.3,952.7 L1444.2,941.5 L1444.2,930.3 L1444.2,919.1 L1444.2,907.9 L1444.2,896.6 L1444.2,885.4 L1444.2,874.2 L1444.2,863.0 L1444.1,851.8 L1444.1,840.6 L1444.1,829.4 L1444.1,818.2 L1444.1,807.0 L1444.1,795.8 L1444.0,784.6 L1444.0,773.4 L1444.0,762.2 L1444.0,751.0 L1444.0,739.8 L1443.9,728.6 L1443.9,717.4 L1443.9,706.2 L1443.9,695.0 L1443.8,683.8 L1443.8,672.6 L1443.8,661.4 L1443.8,650.2 L1443.7,639.0 L1443.7,627.8 L1443.7,616.6 L1443.6,605.4 L1443.6,594.2 L1443.5,583.0 A5.50,5.50 0 0 0 1432.5,583.0 Z" fill="#070907" />
<path d="M1582.0,582.9 L1581.9,595.1 L1581.7,607.4 L1581.5,619.6 L1581.3,631.8 L1581.1,644.0 L1581.0,656.3 L1580.8,668.5 L1580.6,680.7 L1580.5,693.0 L1580.3,705.2 L1580.2,717.4 L1580.0,729.6 L1579.9,741.9 L1579.7,754.1 L1579.6,766.3 L1579.4,778.6 L1579.3,790.8 L1579.1,803.0 L1579.0,815.2 L1578.9,827.5 L1578.7,839.7 L1578.6,851.9 L1578.4,864.2 L1578.3,876.4 L1578.2,888.6 L1578.1,900.8 L1577.9,913.1 L1577.8,925.3 L1577.7,937.5 L1577.5,949.8 L1577.4,962.0 L1577.3,974.2 L1577.2,986.4 L1577.1,998.7 L1576.9,1010.9 L1576.8,1023.1 L1576.7,1035.4 L1576.6,1047.6 L1576.4,1059.8 L1576.3,1072.0 L1576.2,1084.3 L1576.1,1096.5 L1576.0,1108.7 L1575.8,1121.0 L1575.7,1133.2 L1575.6,1145.4 L1575.5,1157.6 L1575.4,1169.9 L1575.2,1182.1 L1575.1,1194.3 L1575.0,1206.5 L1574.9,1218.8 L1574.7,1231.0 L1574.6,1243.2 L1574.5,1255.5 L1574.4,1267.7 L1574.2,1279.9 L1574.1,1292.1 L1574.0,1304.4 L1573.8,1316.6 L1573.7,1328.8 L1573.5,1341.1 L1573.4,1353.3 L1573.3,1365.5 L1573.1,1377.7 L1573.0,1390.0 L1572.8,1402.2 L1572.7,1414.4 L1572.5,1426.6 L1572.4,1438.9 L1572.2,1451.1 L1572.0,1463.3 L1571.9,1475.5 L1571.7,1487.8 L1571.6,1500.0 L1571.4,1512.2 L1571.2,1524.4 L1571.0,1536.7 L1570.9,1548.9 L1570.7,1561.1 L1570.5,1573.4 L1570.3,1585.6 L1570.1,1597.8 L1569.9,1610.0 L1569.7,1622.3 L1569.5,1634.5 L1569.3,1646.7 L1569.1,1658.9 L1568.9,1671.2 L1568.6,1683.4 L1568.4,1695.6 L1568.2,1707.8 L1568.0,1720.1 L1567.7,1732.3 L1567.5,1744.5 L1567.2,1756.7 L1567.0,1769.0 L1566.7,1781.2 L1566.5,1793.4 L1566.2,1805.6 L1565.9,1817.8 L1565.7,1830.1 L1565.4,1842.3 L1565.1,1854.5 L1564.8,1866.7 L1564.5,1879.0 L1564.2,1891.2 L1563.9,1903.4 L1563.6,1915.6 L1563.3,1927.9 L1563.0,1940.1 L1562.6,1952.3 L1562.3,1964.5 L1562.0,1976.7 L1561.6,1989.0 L1561.3,2001.2 L1560.9,2013.4 L1560.6,2025.6 L1560.2,2037.9 A4.75,4.75 0 0 0 1569.7,2038.1 L1569.7,2038.1 L1570.1,2025.9 L1570.4,2013.7 L1570.8,2001.5 L1571.2,1989.2 L1571.6,1977.0 L1571.9,1964.8 L1572.3,1952.6 L1572.6,1940.3 L1572.9,1928.1 L1573.3,1915.9 L1573.6,1903.7 L1573.9,1891.4 L1574.2,1879.2 L1574.6,1867.0 L1574.9,1854.8 L1575.2,1842.5 L1575.5,1830.3 L1575.7,1818.1 L1576.0,1805.8 L1576.3,1793.6 L1576.6,1781.4 L1576.9,1769.2 L1577.1,1756.9 L1577.4,1744.7 L1577.6,1732.5 L1577.9,1720.3 L1578.1,1708.0 L1578.4,1695.8 L1578.6,1683.6 L1578.9,1671.3 L1579.1,1659.1 L1579.3,1646.9 L1579.6,1634.7 L1579.8,1622.4 L1580.0,1610.2 L1580.2,1598.0 L1580.4,1585.7 L1580.6,1573.5 L1580.8,1561.3 L1581.0,1549.1 L1581.2,1536.8 L1581.4,1524.6 L1581.6,1512.4 L1581.8,1500.1 L1582.0,1487.9 L1582.2,1475.7 L1582.3,1463.5 L1582.5,1451.2 L1582.7,1439.0 L1582.9,1426.8 L1583.0,1414.5 L1583.2,1402.3 L1583.4,1390.1 L1583.5,1377.9 L1583.7,1365.6 L1583.8,1353.4 L1584.0,1341.2 L1584.2,1328.9 L1584.3,1316.7 L1584.5,1304.5 L1584.6,1292.3 L1584.8,1280.0 L1584.9,1267.8 L1585.1,1255.6 L1585.2,1243.3 L1585.3,1231.1 L1585.5,1218.9 L1585.6,1206.7 L1585.8,1194.4 L1585.9,1182.2 L1586.1,1170.0 L1586.2,1157.8 L1586.3,1145.5 L1586.5,1133.3 L1586.6,1121.1 L1586.7,1108.8 L1586.9,1096.6 L1587.0,1084.4 L1587.2,1072.2 L1587.3,1059.9 L1587.4,1047.7 L1587.6,1035.5 L1587.7,1023.2 L1587.8,1011.0 L1588.0,998.8 L1588.1,986.6 L1588.3,974.3 L1588.4,962.1 L1588.5,949.9 L1588.7,937.7 L1588.8,925.4 L1589.0,913.2 L1589.1,901.0 L1589.3,888.7 L1589.4,876.5 L1589.6,864.3 L1589.7,852.1 L1589.9,839.8 L1590.0,827.6 L1590.2,815.4 L1590.3,803.2 L1590.5,790.9 L1590.6,778.7 L1590.8,766.5 L1591.0,754.2 L1591.1,742.0 L1591.3,729.8 L1591.5,717.6 L1591.7,705.3 L1591.8,693.1 L1592.0,680.9 L1592.2,668.7 L1592.4,656.4 L1592.6,644.2 L1592.8,632.0 L1592.9,619.8 L1593.1,607.5 L1593.3,595.3 L1593.5,583.1 A5.75,5.75 0 0 0 1582.0,582.9 Z" fill="#070907" />
<path d="M1209.0,581.0 L1210.0,639.0" stroke="#070907" stroke-width="16" fill="none" stroke-linecap="butt" stroke-linejoin="round" /><path d="M1209.0,592.6 L1210.0,636.0" stroke="#262c25" stroke-width="7.2" fill="none" stroke-linecap="round" stroke-linejoin="round" opacity="0.6"/>
<path d="M1340.0,581.0 L1340.0,648.0" stroke="#070907" stroke-width="16" fill="none" stroke-linecap="butt" stroke-linejoin="round" /><path d="M1340.0,594.4 L1340.0,645.0" stroke="#262c25" stroke-width="7.2" fill="none" stroke-linecap="round" stroke-linejoin="round" opacity="0.6"/>
<path d="M1438.0,581.0 L1438.0,646.0" stroke="#070907" stroke-width="16" fill="none" stroke-linecap="butt" stroke-linejoin="round" /><path d="M1438.0,594.0 L1438.0,643.0" stroke="#262c25" stroke-width="7.2" fill="none" stroke-linecap="round" stroke-linejoin="round" opacity="0.6"/>
<path d="M1587.0,581.0 L1587.0,655.0" stroke="#070907" stroke-width="16" fill="none" stroke-linecap="butt" stroke-linejoin="round" /><path d="M1587.0,595.8 L1587.0,652.0" stroke="#262c25" stroke-width="7.2" fill="none" stroke-linecap="round" stroke-linejoin="round" opacity="0.6"/>
<path d="M1216.0,1028.0 L1217.0,1067.0" stroke="#070907" stroke-width="16" fill="none" stroke-linecap="butt" stroke-linejoin="round" />
<path d="M1345.0,1045.0 L1345.6,1119.0" stroke="#070907" stroke-width="15" fill="none" stroke-linecap="butt" stroke-linejoin="round" />
<path d="M1439.0,990.0 L1439.0,1020.0" stroke="#070907" stroke-width="12" fill="none" stroke-linecap="butt" stroke-linejoin="round" />
<path d="M1583.0,1020.0 L1583.0,1097.0" stroke="#070907" stroke-width="15" fill="none" stroke-linecap="butt" stroke-linejoin="round" />
<path d="M1222.0,1430.0 L1223.0,1470.0" stroke="#070907" stroke-width="14" fill="none" stroke-linecap="butt" stroke-linejoin="round" />
<path d="M1345.6,1505.0 L1345.6,1563.0" stroke="#070907" stroke-width="15" fill="none" stroke-linecap="butt" stroke-linejoin="round" />
<path d="M1441.0,1373.0 L1441.0,1440.0" stroke="#070907" stroke-width="13" fill="none" stroke-linecap="butt" stroke-linejoin="round" />
<path d="M1577.0,1440.0 L1576.0,1520.0" stroke="#070907" stroke-width="14" fill="none" stroke-linecap="butt" stroke-linejoin="round" />
<path d="M1201.65,1022.30 a192.95,38.75 0 1 0 385.90,0 a192.95,38.75 0 1 0 -385.90,0 Z M1213.55,1021.70 a181.05,26.85 0 1 0 362.10,0 a181.05,26.85 0 1 0 -362.10,0 Z" fill="#070907" fill-rule="evenodd" transform="rotate(1.4 1394.6 1022)"/>
<path d="M1207.30,1442.25 a189.10,70.80 0 1 0 378.20,0 a189.10,70.80 0 1 0 -378.20,0 Z M1220.90,1440.95 a175.50,57.20 0 1 0 351.00,0 a175.50,57.20 0 1 0 -351.00,0 Z" fill="#070907" fill-rule="evenodd" transform="rotate(1.7 1396.4 1441.6)"/>
<ellipse cx="1502" cy="586.5" rx="3.2" ry="1.8" fill="#e8ece8" transform="rotate(-15 1502 586.5)"/>
<path d="M236,991 Q229,997 231,1006" stroke="#2f7a1c" stroke-width="4" fill="none" stroke-linecap="round" opacity="0.85"/>
<path d="M236,995 Q240,999 244,1002" stroke="#a8d890" stroke-width="1.6" fill="none" stroke-linecap="round" opacity="0.8"/>
<path d="M625,989 Q631,991 633,996" stroke="#2f7a1c" stroke-width="3.5" fill="none" stroke-linecap="round" opacity="0.8"/>
<path d="M1208.5,1011 Q1210.5,1019 1215,1025" stroke="#1f4a14" stroke-width="3.5" fill="none" stroke-linecap="round" opacity="0.8"/>
<path d="M1578.5,1021 Q1582,1028 1581,1035" stroke="#1f4a14" stroke-width="3.5" fill="none" stroke-linecap="round" opacity="0.8"/>
<path d="M1216.5,1424 Q1213.5,1438 1219.5,1452" stroke="#1f3a14" stroke-width="3.5" fill="none" stroke-linecap="round" opacity="0.7"/>
<path d="M257.5,1416 Q253.5,1431 258.5,1448" stroke="#1f3a14" stroke-width="3.5" fill="none" stroke-linecap="round" opacity="0.7"/>
<path d="M1349.5,178 L1349.5,156 Q1349.5,146 1360,145 Q1388,141.5 1414,143 Q1424.5,144 1424.5,156 L1424.5,178 Q1388,183 1349.5,178 Z" fill="#070907"/>
<rect x="1370.1" y="147.2" width="8.4" height="18.6" fill="#fff"/>
<rect x="1391.6" y="148.1" width="8.3" height="18.7" fill="#fff"/>
<rect x="1403.7" y="149.1" width="8.4" height="16.7" fill="#fff"/>
<rect x="1382.2" y="127" width="13" height="16" fill="#6e716e"/>
<rect x="1387.6" y="127" width="2.4" height="16" fill="#1a1d1a"/>
<rect x="1382.2" y="127" width="1.6" height="16" fill="#1a1d1a"/>
<rect x="1393.6" y="127" width="1.6" height="16" fill="#1a1d1a"/>
<path d="M1422.5,3.0 L1424.5,3.1 L1426.4,3.3 L1428.2,3.7 L1429.9,4.3 L1431.6,5.0 L1433.2,5.9 L1434.7,6.9 L1436.2,8.0 L1437.6,9.3 L1439.0,10.6 L1440.3,12.0 L1441.6,13.4 L1442.8,15.0 L1444.0,16.5 L1445.1,18.1 L1446.1,19.8 L1447.0,21.5 L1447.8,23.2 L1448.4,25.0 L1448.8,26.9 L1449.2,28.7 L1449.8,30.5 L1450.6,32.2 L1451.7,33.6 L1453.3,34.8 L1455.2,35.9 L1457.4,36.7 L1459.7,37.4 L1461.7,38.2 L1463.2,39.0 L1463.9,39.9 L1463.7,41.2 L1462.5,42.4 L1460.9,43.4 L1459.1,44.1 L1457.1,44.4 L1455.1,44.7 L1453.1,45.0 L1451.2,45.4 L1449.5,46.2 L1448.0,47.3 L1446.7,48.6 L1445.4,50.0 L1444.2,51.5 L1443.0,53.0 L1441.7,54.4 L1440.3,55.7 L1438.8,56.9 L1437.3,58.1 L1435.8,59.3 L1434.1,60.4 L1432.5,61.6 L1431.0,62.8 L1429.6,64.1 L1428.6,65.5 L1428.0,67.1 L1427.7,68.8 L1427.7,70.6 L1427.9,72.5 L1428.2,74.5 L1428.6,76.5 L1429.0,78.6 L1429.4,80.6 L1429.7,82.6 L1429.8,84.6 L1429.7,86.6 L1429.5,88.4 L1429.2,90.3 L1428.7,92.1 L1428.2,94.0 L1427.6,95.8 L1427.1,97.6 L1426.6,99.5 L1426.0,101.4 L1425.5,103.2 L1424.9,105.1 L1424.3,106.9 L1423.7,108.7 L1422.9,110.5 L1422.1,112.1 L1421.1,113.8 L1420.1,115.3 L1418.9,116.8 L1417.7,118.2 L1416.4,119.5 L1414.9,120.8 L1413.5,122.0 L1411.9,123.1 L1410.3,124.1 L1408.6,125.1 L1406.9,125.9 L1405.1,126.7 L1403.3,127.4 L1401.5,128.1 L1399.6,128.6 L1397.7,129.1 L1395.9,129.5 L1394.0,129.8 L1392.1,130.0 L1390.2,130.2 L1388.3,130.2 L1386.4,130.2 L1384.5,130.2 L1382.6,130.0 L1380.8,129.9 L1378.9,129.6 L1377.0,129.4 L1375.1,129.1 L1373.3,128.7 L1371.4,128.4 L1369.5,128.0 L1367.6,127.7 L1365.8,127.3 L1363.9,126.9 L1362.0,126.6 L1360.1,126.3 L1358.3,125.9 L1356.4,125.6 L1354.5,125.2 L1352.6,124.9 L1350.7,124.6 L1348.9,124.2 L1347.0,123.8 L1345.1,123.5 L1343.3,123.1 L1341.4,122.7 L1339.6,122.3 L1337.7,121.8 L1335.9,121.4 L1334.1,120.9 L1332.2,120.4 L1330.4,119.9 L1328.6,119.3 L1326.8,118.7 L1325.1,118.1 L1323.3,117.4 L1321.5,116.7 L1319.8,116.0 L1318.1,115.2 L1316.4,114.4 L1314.7,113.5 L1313.0,112.5 L1311.3,111.6 L1309.7,110.5 L1308.1,109.4 L1306.5,108.3 L1304.9,107.1 L1303.4,105.8 L1302.0,104.5 L1300.6,103.1 L1299.5,101.6 L1298.9,99.9 L1299.0,98.1 L1299.7,96.3 L1300.9,94.7 L1302.4,93.6 L1304.1,93.1 L1305.9,93.1 L1307.7,93.5 L1309.6,94.2 L1311.5,95.1 L1313.4,96.0 L1315.2,97.0 L1316.9,97.9 L1318.6,98.8 L1320.3,99.7 L1321.9,100.6 L1323.5,101.5 L1325.1,102.3 L1326.7,103.1 L1328.4,103.9 L1330.1,104.7 L1331.8,105.5 L1333.5,106.2 L1335.3,107.0 L1337.0,107.8 L1338.8,108.7 L1340.5,109.6 L1342.3,110.5 L1344.1,111.4 L1345.8,112.3 L1347.6,113.0 L1349.3,113.5 L1351.1,113.7 L1352.9,113.5 L1354.7,113.1 L1356.4,112.3 L1358.1,111.3 L1359.8,110.2 L1361.5,109.0 L1363.0,107.6 L1364.5,106.2 L1366.0,104.9 L1367.4,103.5 L1368.7,102.1 L1370.0,100.7 L1371.2,99.3 L1372.5,97.8 L1373.7,96.4 L1374.9,95.1 L1376.2,93.7 L1377.4,92.3 L1378.7,90.9 L1380.0,89.6 L1381.2,88.3 L1382.5,86.9 L1383.9,85.6 L1385.2,84.2 L1386.5,82.9 L1387.8,81.5 L1389.1,80.2 L1390.5,78.8 L1391.8,77.4 L1393.1,75.9 L1394.4,74.4 L1395.7,72.9 L1396.9,71.4 L1398.1,69.9 L1399.3,68.3 L1400.4,66.6 L1401.4,65.0 L1402.4,63.3 L1403.2,61.6 L1403.9,59.9 L1404.5,58.1 L1405.0,56.3 L1405.3,54.5 L1405.4,52.7 L1405.4,50.8 L1405.2,48.9 L1404.9,47.0 L1404.5,45.1 L1404.1,43.2 L1403.7,41.3 L1403.3,39.4 L1403.0,37.4 L1402.8,35.5 L1402.6,33.6 L1402.6,31.7 L1402.7,29.8 L1402.8,27.9 L1403.1,26.1 L1403.5,24.2 L1404.0,22.4 L1404.6,20.5 L1405.2,18.7 L1406.0,16.9 L1406.8,15.2 L1407.6,13.4 L1408.5,11.7 L1409.3,10.1 L1410.3,8.6 L1411.5,7.2 L1412.9,5.9 L1414.6,4.9 L1416.4,4.1 L1418.4,3.6 L1420.5,3.2 L1422.5,3.0 Z" fill="#070907"/>
<circle cx="1416.7" cy="29.3" r="5" fill="#fff"/>
<ellipse cx="1435.6" cy="23.3" rx="2.8" ry="4.4" transform="rotate(35 1435.6 23.3)" fill="#fff"/>
<ellipse cx="1438.3" cy="32" rx="3.6" ry="4.2" transform="rotate(35 1438.3 32)" fill="#fff"/>
<circle cx="1412" cy="50.8" r="2.7" fill="#fff"/>
<circle cx="1355.2" cy="117.9" r="3.2" fill="#fff"/>
<circle cx="1416.7" cy="108.1" r="2.5" fill="#fff"/>
<path d="M1377.5,106.5 C1382,100 1390,90 1400.5,77.5 M1380,105 C1386,101 1395,92 1403,82" stroke="#cfd2cf" stroke-width="1.5" fill="none"/>
<path d="M1419,57 C1416,64 1414,72 1412,85" stroke="#c9ccc9" stroke-width="3" fill="none" opacity="0.8"/>
<path d="M1296,100 C1300,104 1318,112 1340,119" stroke="#666" stroke-width="1.2" fill="none" opacity="0.5"/>
</g>
</svg>
</body></html>
